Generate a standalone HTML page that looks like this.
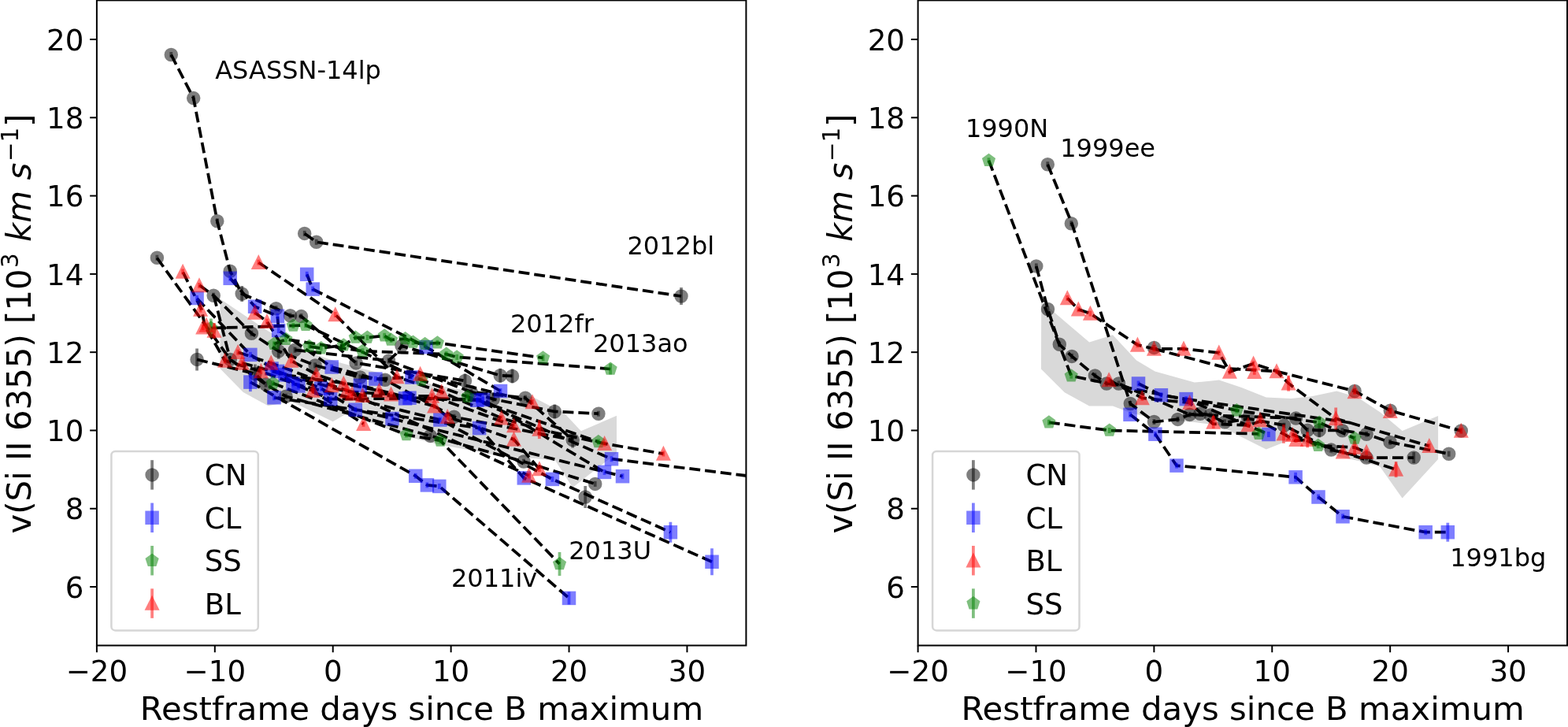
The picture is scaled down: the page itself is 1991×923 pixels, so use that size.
<!DOCTYPE html>
<html lang="en"><head><meta charset="utf-8"><title>v(Si II 6355) vs restframe days since B maximum</title>
<style>html,body{margin:0;padding:0;background:#fff}body{width:1991px;height:923px;overflow:hidden}svg{display:block}text{font-family:"DejaVu Sans","Liberation Sans",sans-serif;fill:#000}</style>
</head><body>
<svg width="1991" height="923" viewBox="0 0 1991 923">
<rect width="1991" height="923" fill="#fff"/>
<defs>
<clipPath id="clipL"><rect x="122.9" y="0.4" width="824.5" height="819.1"/></clipPath>
<clipPath id="clipR"><rect x="1165.6" y="0.4" width="824.4" height="819.1"/></clipPath>
</defs>
<g id="panelL">
<g clip-path="url(#clipL)">
<polygon points="279.5,379.6 310,400 340,420 370,438 400,450 430,460 460,468 500,478 540,486 580,494 620,498 676,503.7 716.7,524.8 737.8,547.3 783,527.8 783,575.3 727.1,618.9 705.3,585 680,582 640,580 600,572 560,565 520,555 480,540 440.8,524.8 422.7,535.3 370,509.7 340.5,515.3 308.9,498 279.5,468" fill="#d9d9d9"/>
<polyline points="217.3,69.5 245.7,124.6 275.8,280.7 292.2,344.2 307.2,373 350.6,391.7 368.5,400.8 382.5,401.6 452.1,460.9 590.5,483.4" fill="none" stroke="#000" stroke-width="3.75" stroke-dasharray="13.875 6"/>
<polyline points="386.7,296.4 401.7,307.3 865,376" fill="none" stroke="#000" stroke-width="3.75" stroke-dasharray="13.875 6"/>
<polyline points="199.4,327.5 292.3,456.4 337.5,488 363,503.3 546.4,553.4 665,586 755.7,614.4" fill="none" stroke="#000" stroke-width="3.75" stroke-dasharray="13.875 6"/>
<polyline points="271.5,375.3 319.4,423.3 353.7,445.8 400.1,463.9 457.3,479 489,482.3 576.5,529.3 727.2,558.6" fill="none" stroke="#000" stroke-width="3.75" stroke-dasharray="13.875 6"/>
<polyline points="271.5,375.3 292.3,456.4" fill="none" stroke="#000" stroke-width="3.75" stroke-dasharray="13.875 6"/>
<polyline points="250.1,456.4 323.9,474.5 337.5,488" fill="none" stroke="#000" stroke-width="3.75" stroke-dasharray="13.875 6"/>
<polyline points="374.5,444.3 493.5,457.9 503,449 510,439.1 635.2,476.8 650.5,477.4" fill="none" stroke="#000" stroke-width="3.75" stroke-dasharray="13.875 6"/>
<polyline points="598.3,497.6 626.2,506.7 704.3,522.5 759.9,525.2" fill="none" stroke="#000" stroke-width="3.75" stroke-dasharray="13.875 6"/>
<polyline points="493.5,457.9 598.3,497.6 667,505.2 727.2,558.6" fill="none" stroke="#000" stroke-width="3.75" stroke-dasharray="13.875 6"/>
<polyline points="232.3,345.5 256.1,393.3 259.7,412.6 285.5,457.9 331.4,471.4 397.1,496.1 461.6,538.3" fill="none" stroke="#000" stroke-width="3.75" stroke-dasharray="13.875 6"/>
<polyline points="253.1,362.1 271.5,375.3" fill="none" stroke="#000" stroke-width="3.75" stroke-dasharray="13.875 6"/>
<polyline points="323.6,396.9 339,408.2 370,457.9 401.6,475.5 436.3,487.1 481.4,496.1" fill="none" stroke="#000" stroke-width="3.75" stroke-dasharray="13.875 6"/>
<polyline points="328.3,333.2 425.8,399.5 504,478.5 560.7,497.6 636.7,530.8 684.8,545.1 767.6,563.2 842.4,576.1" fill="none" stroke="#000" stroke-width="3.75" stroke-dasharray="13.875 6"/>
<polyline points="302.1,447.3 344.2,460.9 421.2,489.4 460.4,502.2 548.6,502.9 652.5,540.6" fill="none" stroke="#000" stroke-width="3.75" stroke-dasharray="13.875 6"/>
<polyline points="307.3,460.9 440,497 496.5,500.7 551.6,515.7 568.2,529.3 652.5,557.9 684.9,595.6" fill="none" stroke="#000" stroke-width="3.75" stroke-dasharray="13.875 6"/>
<polyline points="533.6,475.1 676,510.5" fill="none" stroke="#000" stroke-width="3.75" stroke-dasharray="13.875 6"/>
<polyline points="447,500 671.6,603.9" fill="none" stroke="#000" stroke-width="3.75" stroke-dasharray="13.875 6"/>
<polyline points="250.1,378.9 317.9,450.4 352.5,471.4 407.7,493.1 451.3,520.2 498,531.5" fill="none" stroke="#000" stroke-width="3.75" stroke-dasharray="13.875 6"/>
<polyline points="292.2,353.3 323.6,389.2 352.4,401.3 353.7,419.5 421.2,466 476.9,481.1 523,479" fill="none" stroke="#000" stroke-width="3.75" stroke-dasharray="13.875 6"/>
<polyline points="389.7,348.3 397.2,367.1 541.1,440.6 635.5,496.5" fill="none" stroke="#000" stroke-width="3.75" stroke-dasharray="13.875 6"/>
<polyline points="317.9,485.1 527.7,604.3 542.4,615.9 557.8,617.4 722.5,759.4" fill="none" stroke="#000" stroke-width="3.75" stroke-dasharray="13.875 6"/>
<polyline points="345,468 379,490 419.7,506.7 514.6,505.9 605.8,508.2 776.5,582.7 960,605.5" fill="none" stroke="#000" stroke-width="3.75" stroke-dasharray="13.875 6"/>
<polyline points="362,476 457.3,489.4 520,505.2 613.4,507.4 767.5,599.4" fill="none" stroke="#000" stroke-width="3.75" stroke-dasharray="13.875 6"/>
<polyline points="348,504.8 608.6,543.6 665.3,606.9 904,713.3" fill="none" stroke="#000" stroke-width="3.75" stroke-dasharray="13.875 6"/>
<polyline points="372,487 558.9,533 701.4,608.4 851.4,675.7" fill="none" stroke="#000" stroke-width="3.75" stroke-dasharray="13.875 6"/>
<polyline points="498,531.5 790.5,604.7" fill="none" stroke="#000" stroke-width="3.75" stroke-dasharray="13.875 6"/>
<polyline points="392.6,439.8 407.7,442.1 436.3,438.3 451.3,428.5 466.4,428.5 488.2,426.3 496.5,431.5 514.6,430 524.5,434.5 539.6,436.8 555.4,435.3 689.6,454.4" fill="none" stroke="#000" stroke-width="3.75" stroke-dasharray="13.875 6"/>
<polyline points="348,436.8 363,430.8 460.4,445.8 566.7,449.6 580.2,453.4 775.1,468.5" fill="none" stroke="#000" stroke-width="3.75" stroke-dasharray="13.875 6"/>
<polyline points="267.9,416.5 372.3,413.5 388.1,412.7 535,482.5 593.8,503.7 759.9,560.9" fill="none" stroke="#000" stroke-width="3.75" stroke-dasharray="13.875 6"/>
<polyline points="346.5,486.5 516,552 559.2,559.4 710.5,716" fill="none" stroke="#000" stroke-width="3.75" stroke-dasharray="13.875 6"/>
<line x1="217.3" y1="66" x2="217.3" y2="73" stroke="#000000" stroke-opacity="0.5" stroke-width="3.75"/>
<circle cx="217.3" cy="69.5" r="7.5" fill="#000000" stroke="#000000" stroke-width="2.5" opacity="0.5"/>
<line x1="245.7" y1="121.1" x2="245.7" y2="128.1" stroke="#000000" stroke-opacity="0.5" stroke-width="3.75"/>
<circle cx="245.7" cy="124.6" r="7.5" fill="#000000" stroke="#000000" stroke-width="2.5" opacity="0.5"/>
<line x1="275.8" y1="277.2" x2="275.8" y2="284.2" stroke="#000000" stroke-opacity="0.5" stroke-width="3.75"/>
<circle cx="275.8" cy="280.7" r="7.5" fill="#000000" stroke="#000000" stroke-width="2.5" opacity="0.5"/>
<line x1="292.2" y1="340.7" x2="292.2" y2="347.7" stroke="#000000" stroke-opacity="0.5" stroke-width="3.75"/>
<circle cx="292.2" cy="344.2" r="7.5" fill="#000000" stroke="#000000" stroke-width="2.5" opacity="0.5"/>
<line x1="307.2" y1="363" x2="307.2" y2="383" stroke="#000000" stroke-opacity="0.5" stroke-width="3.75"/>
<circle cx="307.2" cy="373" r="7.5" fill="#000000" stroke="#000000" stroke-width="2.5" opacity="0.5"/>
<line x1="199.4" y1="323.7" x2="199.4" y2="330.7" stroke="#000000" stroke-opacity="0.5" stroke-width="3.75"/>
<circle cx="199.4" cy="327.2" r="7.5" fill="#000000" stroke="#000000" stroke-width="2.5" opacity="0.5"/>
<line x1="271.2" y1="371.7" x2="271.2" y2="378.7" stroke="#000000" stroke-opacity="0.5" stroke-width="3.75"/>
<circle cx="271.2" cy="375.2" r="7.5" fill="#000000" stroke="#000000" stroke-width="2.5" opacity="0.5"/>
<line x1="350.6" y1="388.2" x2="350.6" y2="395.2" stroke="#000000" stroke-opacity="0.5" stroke-width="3.75"/>
<circle cx="350.6" cy="391.7" r="7.5" fill="#000000" stroke="#000000" stroke-width="2.5" opacity="0.5"/>
<line x1="368.5" y1="397.3" x2="368.5" y2="404.3" stroke="#000000" stroke-opacity="0.5" stroke-width="3.75"/>
<circle cx="368.5" cy="400.8" r="7.5" fill="#000000" stroke="#000000" stroke-width="2.5" opacity="0.5"/>
<line x1="382.5" y1="398.1" x2="382.5" y2="405.1" stroke="#000000" stroke-opacity="0.5" stroke-width="3.75"/>
<circle cx="382.5" cy="401.6" r="7.5" fill="#000000" stroke="#000000" stroke-width="2.5" opacity="0.5"/>
<line x1="386.7" y1="292.9" x2="386.7" y2="299.9" stroke="#000000" stroke-opacity="0.5" stroke-width="3.75"/>
<circle cx="386.7" cy="296.4" r="7.5" fill="#000000" stroke="#000000" stroke-width="2.5" opacity="0.5"/>
<line x1="401.7" y1="303.8" x2="401.7" y2="310.8" stroke="#000000" stroke-opacity="0.5" stroke-width="3.75"/>
<circle cx="401.7" cy="307.3" r="7.5" fill="#000000" stroke="#000000" stroke-width="2.5" opacity="0.5"/>
<line x1="865" y1="365" x2="865" y2="387" stroke="#000000" stroke-opacity="0.5" stroke-width="3.75"/>
<circle cx="865" cy="376" r="7.5" fill="#000000" stroke="#000000" stroke-width="2.5" opacity="0.5"/>
<line x1="319.4" y1="419.8" x2="319.4" y2="426.8" stroke="#000000" stroke-opacity="0.5" stroke-width="3.75"/>
<circle cx="319.4" cy="423.3" r="7.5" fill="#000000" stroke="#000000" stroke-width="2.5" opacity="0.5"/>
<line x1="250.1" y1="442.4" x2="250.1" y2="470.4" stroke="#000000" stroke-opacity="0.5" stroke-width="3.75"/>
<circle cx="250.1" cy="456.4" r="7.5" fill="#000000" stroke="#000000" stroke-width="2.5" opacity="0.5"/>
<line x1="292.3" y1="452.9" x2="292.3" y2="459.9" stroke="#000000" stroke-opacity="0.5" stroke-width="3.75"/>
<circle cx="292.3" cy="456.4" r="7.5" fill="#000000" stroke="#000000" stroke-width="2.5" opacity="0.5"/>
<line x1="353.7" y1="435.8" x2="353.7" y2="455.8" stroke="#000000" stroke-opacity="0.5" stroke-width="3.75"/>
<circle cx="353.7" cy="445.8" r="7.5" fill="#000000" stroke="#000000" stroke-width="2.5" opacity="0.5"/>
<line x1="323.9" y1="462.5" x2="323.9" y2="486.5" stroke="#000000" stroke-opacity="0.5" stroke-width="3.75"/>
<circle cx="323.9" cy="474.5" r="7.5" fill="#000000" stroke="#000000" stroke-width="2.5" opacity="0.5"/>
<line x1="337.5" y1="484.5" x2="337.5" y2="491.5" stroke="#000000" stroke-opacity="0.5" stroke-width="3.75"/>
<circle cx="337.5" cy="488" r="7.5" fill="#000000" stroke="#000000" stroke-width="2.5" opacity="0.5"/>
<line x1="363" y1="499.8" x2="363" y2="506.8" stroke="#000000" stroke-opacity="0.5" stroke-width="3.75"/>
<circle cx="363" cy="503.3" r="7.5" fill="#000000" stroke="#000000" stroke-width="2.5" opacity="0.5"/>
<line x1="374.5" y1="440.8" x2="374.5" y2="447.8" stroke="#000000" stroke-opacity="0.5" stroke-width="3.75"/>
<circle cx="374.5" cy="444.3" r="7.5" fill="#000000" stroke="#000000" stroke-width="2.5" opacity="0.5"/>
<line x1="400.1" y1="460.4" x2="400.1" y2="467.4" stroke="#000000" stroke-opacity="0.5" stroke-width="3.75"/>
<circle cx="400.1" cy="463.9" r="7.5" fill="#000000" stroke="#000000" stroke-width="2.5" opacity="0.5"/>
<line x1="452.1" y1="457.4" x2="452.1" y2="464.4" stroke="#000000" stroke-opacity="0.5" stroke-width="3.75"/>
<circle cx="452.1" cy="460.9" r="7.5" fill="#000000" stroke="#000000" stroke-width="2.5" opacity="0.5"/>
<line x1="493.5" y1="454.4" x2="493.5" y2="461.4" stroke="#000000" stroke-opacity="0.5" stroke-width="3.75"/>
<circle cx="493.5" cy="457.9" r="7.5" fill="#000000" stroke="#000000" stroke-width="2.5" opacity="0.5"/>
<line x1="510" y1="435.6" x2="510" y2="442.6" stroke="#000000" stroke-opacity="0.5" stroke-width="3.75"/>
<circle cx="510" cy="439.1" r="7.5" fill="#000000" stroke="#000000" stroke-width="2.5" opacity="0.5"/>
<line x1="457.3" y1="475.5" x2="457.3" y2="482.5" stroke="#000000" stroke-opacity="0.5" stroke-width="3.75"/>
<circle cx="457.3" cy="479" r="7.5" fill="#000000" stroke="#000000" stroke-width="2.5" opacity="0.5"/>
<line x1="489" y1="478.8" x2="489" y2="485.8" stroke="#000000" stroke-opacity="0.5" stroke-width="3.75"/>
<circle cx="489" cy="482.3" r="7.5" fill="#000000" stroke="#000000" stroke-width="2.5" opacity="0.5"/>
<line x1="590.5" y1="474.4" x2="590.5" y2="492.4" stroke="#000000" stroke-opacity="0.5" stroke-width="3.75"/>
<circle cx="590.5" cy="483.4" r="7.5" fill="#000000" stroke="#000000" stroke-width="2.5" opacity="0.5"/>
<line x1="635.2" y1="467.8" x2="635.2" y2="485.8" stroke="#000000" stroke-opacity="0.5" stroke-width="3.75"/>
<circle cx="635.2" cy="476.8" r="7.5" fill="#000000" stroke="#000000" stroke-width="2.5" opacity="0.5"/>
<line x1="650.5" y1="468.4" x2="650.5" y2="486.4" stroke="#000000" stroke-opacity="0.5" stroke-width="3.75"/>
<circle cx="650.5" cy="477.4" r="7.5" fill="#000000" stroke="#000000" stroke-width="2.5" opacity="0.5"/>
<line x1="598.3" y1="494.1" x2="598.3" y2="501.1" stroke="#000000" stroke-opacity="0.5" stroke-width="3.75"/>
<circle cx="598.3" cy="497.6" r="7.5" fill="#000000" stroke="#000000" stroke-width="2.5" opacity="0.5"/>
<line x1="626.2" y1="503.2" x2="626.2" y2="510.2" stroke="#000000" stroke-opacity="0.5" stroke-width="3.75"/>
<circle cx="626.2" cy="506.7" r="7.5" fill="#000000" stroke="#000000" stroke-width="2.5" opacity="0.5"/>
<line x1="667" y1="501.7" x2="667" y2="508.7" stroke="#000000" stroke-opacity="0.5" stroke-width="3.75"/>
<circle cx="667" cy="505.2" r="7.5" fill="#000000" stroke="#000000" stroke-width="2.5" opacity="0.5"/>
<line x1="576.5" y1="525.8" x2="576.5" y2="532.8" stroke="#000000" stroke-opacity="0.5" stroke-width="3.75"/>
<circle cx="576.5" cy="529.3" r="7.5" fill="#000000" stroke="#000000" stroke-width="2.5" opacity="0.5"/>
<line x1="546.4" y1="549.9" x2="546.4" y2="556.9" stroke="#000000" stroke-opacity="0.5" stroke-width="3.75"/>
<circle cx="546.4" cy="553.4" r="7.5" fill="#000000" stroke="#000000" stroke-width="2.5" opacity="0.5"/>
<line x1="704.3" y1="513.5" x2="704.3" y2="531.5" stroke="#000000" stroke-opacity="0.5" stroke-width="3.75"/>
<circle cx="704.3" cy="522.5" r="7.5" fill="#000000" stroke="#000000" stroke-width="2.5" opacity="0.5"/>
<line x1="759.9" y1="521.7" x2="759.9" y2="528.7" stroke="#000000" stroke-opacity="0.5" stroke-width="3.75"/>
<circle cx="759.9" cy="525.2" r="7.5" fill="#000000" stroke="#000000" stroke-width="2.5" opacity="0.5"/>
<line x1="727.2" y1="548.6" x2="727.2" y2="568.6" stroke="#000000" stroke-opacity="0.5" stroke-width="3.75"/>
<circle cx="727.2" cy="558.6" r="7.5" fill="#000000" stroke="#000000" stroke-width="2.5" opacity="0.5"/>
<line x1="665" y1="582.5" x2="665" y2="589.5" stroke="#000000" stroke-opacity="0.5" stroke-width="3.75"/>
<circle cx="665" cy="586" r="7.5" fill="#000000" stroke="#000000" stroke-width="2.5" opacity="0.5"/>
<line x1="755.7" y1="610.9" x2="755.7" y2="617.9" stroke="#000000" stroke-opacity="0.5" stroke-width="3.75"/>
<circle cx="755.7" cy="614.4" r="7.5" fill="#000000" stroke="#000000" stroke-width="2.5" opacity="0.5"/>
<line x1="743.2" y1="617" x2="743.2" y2="645" stroke="#000000" stroke-opacity="0.5" stroke-width="3.75"/>
<circle cx="743.2" cy="631" r="7.5" fill="#000000" stroke="#000000" stroke-width="2.5" opacity="0.5"/>
<line x1="250.1" y1="375" x2="250.1" y2="382" stroke="#0000ff" stroke-opacity="0.5" stroke-width="3.75"/>
<rect x="242.6" y="371" width="15" height="15" fill="#0000ff" stroke="#0000ff" stroke-width="2.5" opacity="0.5"/>
<line x1="292.2" y1="349.8" x2="292.2" y2="356.8" stroke="#0000ff" stroke-opacity="0.5" stroke-width="3.75"/>
<rect x="284.7" y="345.8" width="15" height="15" fill="#0000ff" stroke="#0000ff" stroke-width="2.5" opacity="0.5"/>
<line x1="323.6" y1="385.7" x2="323.6" y2="392.7" stroke="#0000ff" stroke-opacity="0.5" stroke-width="3.75"/>
<rect x="316.1" y="381.7" width="15" height="15" fill="#0000ff" stroke="#0000ff" stroke-width="2.5" opacity="0.5"/>
<line x1="352.4" y1="397.8" x2="352.4" y2="404.8" stroke="#0000ff" stroke-opacity="0.5" stroke-width="3.75"/>
<rect x="344.9" y="393.8" width="15" height="15" fill="#0000ff" stroke="#0000ff" stroke-width="2.5" opacity="0.5"/>
<line x1="353.7" y1="416" x2="353.7" y2="423" stroke="#0000ff" stroke-opacity="0.5" stroke-width="3.75"/>
<rect x="346.2" y="412" width="15" height="15" fill="#0000ff" stroke="#0000ff" stroke-width="2.5" opacity="0.5"/>
<line x1="389.7" y1="344.8" x2="389.7" y2="351.8" stroke="#0000ff" stroke-opacity="0.5" stroke-width="3.75"/>
<rect x="382.2" y="340.8" width="15" height="15" fill="#0000ff" stroke="#0000ff" stroke-width="2.5" opacity="0.5"/>
<line x1="397.2" y1="363.6" x2="397.2" y2="370.6" stroke="#0000ff" stroke-opacity="0.5" stroke-width="3.75"/>
<rect x="389.7" y="359.6" width="15" height="15" fill="#0000ff" stroke="#0000ff" stroke-width="2.5" opacity="0.5"/>
<line x1="317.9" y1="446.9" x2="317.9" y2="453.9" stroke="#0000ff" stroke-opacity="0.5" stroke-width="3.75"/>
<rect x="310.4" y="442.9" width="15" height="15" fill="#0000ff" stroke="#0000ff" stroke-width="2.5" opacity="0.5"/>
<line x1="317.9" y1="473.1" x2="317.9" y2="497.1" stroke="#0000ff" stroke-opacity="0.5" stroke-width="3.75"/>
<rect x="310.4" y="477.6" width="15" height="15" fill="#0000ff" stroke="#0000ff" stroke-width="2.5" opacity="0.5"/>
<line x1="348" y1="501.3" x2="348" y2="508.3" stroke="#0000ff" stroke-opacity="0.5" stroke-width="3.75"/>
<rect x="340.5" y="497.3" width="15" height="15" fill="#0000ff" stroke="#0000ff" stroke-width="2.5" opacity="0.5"/>
<line x1="352.5" y1="467.9" x2="352.5" y2="474.9" stroke="#0000ff" stroke-opacity="0.5" stroke-width="3.75"/>
<rect x="345" y="463.9" width="15" height="15" fill="#0000ff" stroke="#0000ff" stroke-width="2.5" opacity="0.5"/>
<line x1="345" y1="464.5" x2="345" y2="471.5" stroke="#0000ff" stroke-opacity="0.5" stroke-width="3.75"/>
<rect x="337.5" y="460.5" width="15" height="15" fill="#0000ff" stroke="#0000ff" stroke-width="2.5" opacity="0.5"/>
<line x1="362" y1="472.5" x2="362" y2="479.5" stroke="#0000ff" stroke-opacity="0.5" stroke-width="3.75"/>
<rect x="354.5" y="468.5" width="15" height="15" fill="#0000ff" stroke="#0000ff" stroke-width="2.5" opacity="0.5"/>
<line x1="421.2" y1="462.5" x2="421.2" y2="469.5" stroke="#0000ff" stroke-opacity="0.5" stroke-width="3.75"/>
<rect x="413.7" y="458.5" width="15" height="15" fill="#0000ff" stroke="#0000ff" stroke-width="2.5" opacity="0.5"/>
<line x1="379" y1="486.5" x2="379" y2="493.5" stroke="#0000ff" stroke-opacity="0.5" stroke-width="3.75"/>
<rect x="371.5" y="482.5" width="15" height="15" fill="#0000ff" stroke="#0000ff" stroke-width="2.5" opacity="0.5"/>
<line x1="372" y1="483.5" x2="372" y2="490.5" stroke="#0000ff" stroke-opacity="0.5" stroke-width="3.75"/>
<rect x="364.5" y="479.5" width="15" height="15" fill="#0000ff" stroke="#0000ff" stroke-width="2.5" opacity="0.5"/>
<line x1="407.7" y1="489.6" x2="407.7" y2="496.6" stroke="#0000ff" stroke-opacity="0.5" stroke-width="3.75"/>
<rect x="400.2" y="485.6" width="15" height="15" fill="#0000ff" stroke="#0000ff" stroke-width="2.5" opacity="0.5"/>
<line x1="419.7" y1="503.2" x2="419.7" y2="510.2" stroke="#0000ff" stroke-opacity="0.5" stroke-width="3.75"/>
<rect x="412.2" y="499.2" width="15" height="15" fill="#0000ff" stroke="#0000ff" stroke-width="2.5" opacity="0.5"/>
<line x1="457.3" y1="485.9" x2="457.3" y2="492.9" stroke="#0000ff" stroke-opacity="0.5" stroke-width="3.75"/>
<rect x="449.8" y="481.9" width="15" height="15" fill="#0000ff" stroke="#0000ff" stroke-width="2.5" opacity="0.5"/>
<line x1="476.9" y1="477.6" x2="476.9" y2="484.6" stroke="#0000ff" stroke-opacity="0.5" stroke-width="3.75"/>
<rect x="469.4" y="473.6" width="15" height="15" fill="#0000ff" stroke="#0000ff" stroke-width="2.5" opacity="0.5"/>
<line x1="514.6" y1="502.4" x2="514.6" y2="509.4" stroke="#0000ff" stroke-opacity="0.5" stroke-width="3.75"/>
<rect x="507.1" y="498.4" width="15" height="15" fill="#0000ff" stroke="#0000ff" stroke-width="2.5" opacity="0.5"/>
<line x1="451.3" y1="516.7" x2="451.3" y2="523.7" stroke="#0000ff" stroke-opacity="0.5" stroke-width="3.75"/>
<rect x="443.8" y="512.7" width="15" height="15" fill="#0000ff" stroke="#0000ff" stroke-width="2.5" opacity="0.5"/>
<line x1="498" y1="528" x2="498" y2="535" stroke="#0000ff" stroke-opacity="0.5" stroke-width="3.75"/>
<rect x="490.5" y="524" width="15" height="15" fill="#0000ff" stroke="#0000ff" stroke-width="2.5" opacity="0.5"/>
<line x1="541.1" y1="437.1" x2="541.1" y2="444.1" stroke="#0000ff" stroke-opacity="0.5" stroke-width="3.75"/>
<rect x="533.6" y="433.1" width="15" height="15" fill="#0000ff" stroke="#0000ff" stroke-width="2.5" opacity="0.5"/>
<line x1="523" y1="475.5" x2="523" y2="482.5" stroke="#0000ff" stroke-opacity="0.5" stroke-width="3.75"/>
<rect x="515.5" y="471.5" width="15" height="15" fill="#0000ff" stroke="#0000ff" stroke-width="2.5" opacity="0.5"/>
<line x1="520" y1="501.7" x2="520" y2="508.7" stroke="#0000ff" stroke-opacity="0.5" stroke-width="3.75"/>
<rect x="512.5" y="497.7" width="15" height="15" fill="#0000ff" stroke="#0000ff" stroke-width="2.5" opacity="0.5"/>
<line x1="605.8" y1="504.7" x2="605.8" y2="511.7" stroke="#0000ff" stroke-opacity="0.5" stroke-width="3.75"/>
<rect x="598.3" y="500.7" width="15" height="15" fill="#0000ff" stroke="#0000ff" stroke-width="2.5" opacity="0.5"/>
<line x1="613.4" y1="503.9" x2="613.4" y2="510.9" stroke="#0000ff" stroke-opacity="0.5" stroke-width="3.75"/>
<rect x="605.9" y="499.9" width="15" height="15" fill="#0000ff" stroke="#0000ff" stroke-width="2.5" opacity="0.5"/>
<line x1="635.5" y1="493" x2="635.5" y2="500" stroke="#0000ff" stroke-opacity="0.5" stroke-width="3.75"/>
<rect x="628" y="489" width="15" height="15" fill="#0000ff" stroke="#0000ff" stroke-width="2.5" opacity="0.5"/>
<line x1="558.9" y1="529.5" x2="558.9" y2="536.5" stroke="#0000ff" stroke-opacity="0.5" stroke-width="3.75"/>
<rect x="551.4" y="525.5" width="15" height="15" fill="#0000ff" stroke="#0000ff" stroke-width="2.5" opacity="0.5"/>
<line x1="608.6" y1="540.1" x2="608.6" y2="547.1" stroke="#0000ff" stroke-opacity="0.5" stroke-width="3.75"/>
<rect x="601.1" y="536.1" width="15" height="15" fill="#0000ff" stroke="#0000ff" stroke-width="2.5" opacity="0.5"/>
<line x1="527.7" y1="600.8" x2="527.7" y2="607.8" stroke="#0000ff" stroke-opacity="0.5" stroke-width="3.75"/>
<rect x="520.2" y="596.8" width="15" height="15" fill="#0000ff" stroke="#0000ff" stroke-width="2.5" opacity="0.5"/>
<line x1="542.4" y1="612.4" x2="542.4" y2="619.4" stroke="#0000ff" stroke-opacity="0.5" stroke-width="3.75"/>
<rect x="534.9" y="608.4" width="15" height="15" fill="#0000ff" stroke="#0000ff" stroke-width="2.5" opacity="0.5"/>
<line x1="557.8" y1="613.9" x2="557.8" y2="620.9" stroke="#0000ff" stroke-opacity="0.5" stroke-width="3.75"/>
<rect x="550.3" y="609.9" width="15" height="15" fill="#0000ff" stroke="#0000ff" stroke-width="2.5" opacity="0.5"/>
<line x1="665.3" y1="603.4" x2="665.3" y2="610.4" stroke="#0000ff" stroke-opacity="0.5" stroke-width="3.75"/>
<rect x="657.8" y="599.4" width="15" height="15" fill="#0000ff" stroke="#0000ff" stroke-width="2.5" opacity="0.5"/>
<line x1="701.4" y1="604.9" x2="701.4" y2="611.9" stroke="#0000ff" stroke-opacity="0.5" stroke-width="3.75"/>
<rect x="693.9" y="600.9" width="15" height="15" fill="#0000ff" stroke="#0000ff" stroke-width="2.5" opacity="0.5"/>
<line x1="776.5" y1="579.2" x2="776.5" y2="586.2" stroke="#0000ff" stroke-opacity="0.5" stroke-width="3.75"/>
<rect x="769" y="575.2" width="15" height="15" fill="#0000ff" stroke="#0000ff" stroke-width="2.5" opacity="0.5"/>
<line x1="767.5" y1="595.9" x2="767.5" y2="602.9" stroke="#0000ff" stroke-opacity="0.5" stroke-width="3.75"/>
<rect x="760" y="591.9" width="15" height="15" fill="#0000ff" stroke="#0000ff" stroke-width="2.5" opacity="0.5"/>
<line x1="790.5" y1="601.2" x2="790.5" y2="608.2" stroke="#0000ff" stroke-opacity="0.5" stroke-width="3.75"/>
<rect x="783" y="597.2" width="15" height="15" fill="#0000ff" stroke="#0000ff" stroke-width="2.5" opacity="0.5"/>
<line x1="851.4" y1="662.7" x2="851.4" y2="688.7" stroke="#0000ff" stroke-opacity="0.5" stroke-width="3.75"/>
<rect x="843.9" y="668.2" width="15" height="15" fill="#0000ff" stroke="#0000ff" stroke-width="2.5" opacity="0.5"/>
<line x1="904" y1="696.3" x2="904" y2="730.3" stroke="#0000ff" stroke-opacity="0.5" stroke-width="3.75"/>
<rect x="896.5" y="705.8" width="15" height="15" fill="#0000ff" stroke="#0000ff" stroke-width="2.5" opacity="0.5"/>
<line x1="722.5" y1="751.4" x2="722.5" y2="767.4" stroke="#0000ff" stroke-opacity="0.5" stroke-width="3.75"/>
<rect x="715" y="751.9" width="15" height="15" fill="#0000ff" stroke="#0000ff" stroke-width="2.5" opacity="0.5"/>
<line x1="267.9" y1="404.5" x2="267.9" y2="428.5" stroke="#008000" stroke-opacity="0.5" stroke-width="3.75"/>
<polygon points="267.9,409 275.03,414.18 272.31,422.57 263.49,422.57 260.77,414.18" fill="#008000" stroke="#008000" stroke-width="2.5" opacity="0.5" stroke-linejoin="miter"/>
<line x1="372.3" y1="410" x2="372.3" y2="417" stroke="#008000" stroke-opacity="0.5" stroke-width="3.75"/>
<polygon points="372.3,406 379.43,411.18 376.71,419.57 367.89,419.57 365.17,411.18" fill="#008000" stroke="#008000" stroke-width="2.5" opacity="0.5" stroke-linejoin="miter"/>
<line x1="388.1" y1="409.2" x2="388.1" y2="416.2" stroke="#008000" stroke-opacity="0.5" stroke-width="3.75"/>
<polygon points="388.1,405.2 395.23,410.38 392.51,418.77 383.69,418.77 380.97,410.38" fill="#008000" stroke="#008000" stroke-width="2.5" opacity="0.5" stroke-linejoin="miter"/>
<line x1="348" y1="433.3" x2="348" y2="440.3" stroke="#008000" stroke-opacity="0.5" stroke-width="3.75"/>
<polygon points="348,429.3 355.13,434.48 352.41,442.87 343.59,442.87 340.87,434.48" fill="#008000" stroke="#008000" stroke-width="2.5" opacity="0.5" stroke-linejoin="miter"/>
<line x1="363" y1="427.3" x2="363" y2="434.3" stroke="#008000" stroke-opacity="0.5" stroke-width="3.75"/>
<polygon points="363,423.3 370.13,428.48 367.41,436.87 358.59,436.87 355.87,428.48" fill="#008000" stroke="#008000" stroke-width="2.5" opacity="0.5" stroke-linejoin="miter"/>
<line x1="392.6" y1="436.3" x2="392.6" y2="443.3" stroke="#008000" stroke-opacity="0.5" stroke-width="3.75"/>
<polygon points="392.6,432.3 399.73,437.48 397.01,445.87 388.19,445.87 385.47,437.48" fill="#008000" stroke="#008000" stroke-width="2.5" opacity="0.5" stroke-linejoin="miter"/>
<line x1="407.7" y1="438.6" x2="407.7" y2="445.6" stroke="#008000" stroke-opacity="0.5" stroke-width="3.75"/>
<polygon points="407.7,434.6 414.83,439.78 412.11,448.17 403.29,448.17 400.57,439.78" fill="#008000" stroke="#008000" stroke-width="2.5" opacity="0.5" stroke-linejoin="miter"/>
<line x1="436.3" y1="434.8" x2="436.3" y2="441.8" stroke="#008000" stroke-opacity="0.5" stroke-width="3.75"/>
<polygon points="436.3,430.8 443.43,435.98 440.71,444.37 431.89,444.37 429.17,435.98" fill="#008000" stroke="#008000" stroke-width="2.5" opacity="0.5" stroke-linejoin="miter"/>
<line x1="451.3" y1="425" x2="451.3" y2="432" stroke="#008000" stroke-opacity="0.5" stroke-width="3.75"/>
<polygon points="451.3,421 458.43,426.18 455.71,434.57 446.89,434.57 444.17,426.18" fill="#008000" stroke="#008000" stroke-width="2.5" opacity="0.5" stroke-linejoin="miter"/>
<line x1="466.4" y1="425" x2="466.4" y2="432" stroke="#008000" stroke-opacity="0.5" stroke-width="3.75"/>
<polygon points="466.4,421 473.53,426.18 470.81,434.57 461.99,434.57 459.27,426.18" fill="#008000" stroke="#008000" stroke-width="2.5" opacity="0.5" stroke-linejoin="miter"/>
<line x1="488.2" y1="422.8" x2="488.2" y2="429.8" stroke="#008000" stroke-opacity="0.5" stroke-width="3.75"/>
<polygon points="488.2,418.8 495.33,423.98 492.61,432.37 483.79,432.37 481.07,423.98" fill="#008000" stroke="#008000" stroke-width="2.5" opacity="0.5" stroke-linejoin="miter"/>
<line x1="496.5" y1="428" x2="496.5" y2="435" stroke="#008000" stroke-opacity="0.5" stroke-width="3.75"/>
<polygon points="496.5,424 503.63,429.18 500.91,437.57 492.09,437.57 489.37,429.18" fill="#008000" stroke="#008000" stroke-width="2.5" opacity="0.5" stroke-linejoin="miter"/>
<line x1="514.6" y1="426.5" x2="514.6" y2="433.5" stroke="#008000" stroke-opacity="0.5" stroke-width="3.75"/>
<polygon points="514.6,422.5 521.73,427.68 519.01,436.07 510.19,436.07 507.47,427.68" fill="#008000" stroke="#008000" stroke-width="2.5" opacity="0.5" stroke-linejoin="miter"/>
<line x1="524.5" y1="431" x2="524.5" y2="438" stroke="#008000" stroke-opacity="0.5" stroke-width="3.75"/>
<polygon points="524.5,427 531.63,432.18 528.91,440.57 520.09,440.57 517.37,432.18" fill="#008000" stroke="#008000" stroke-width="2.5" opacity="0.5" stroke-linejoin="miter"/>
<line x1="539.6" y1="433.3" x2="539.6" y2="440.3" stroke="#008000" stroke-opacity="0.5" stroke-width="3.75"/>
<polygon points="539.6,429.3 546.73,434.48 544.01,442.87 535.19,442.87 532.47,434.48" fill="#008000" stroke="#008000" stroke-width="2.5" opacity="0.5" stroke-linejoin="miter"/>
<line x1="555.4" y1="431.8" x2="555.4" y2="438.8" stroke="#008000" stroke-opacity="0.5" stroke-width="3.75"/>
<polygon points="555.4,427.8 562.53,432.98 559.81,441.37 550.99,441.37 548.27,432.98" fill="#008000" stroke="#008000" stroke-width="2.5" opacity="0.5" stroke-linejoin="miter"/>
<line x1="460.4" y1="442.3" x2="460.4" y2="449.3" stroke="#008000" stroke-opacity="0.5" stroke-width="3.75"/>
<polygon points="460.4,438.3 467.53,443.48 464.81,451.87 455.99,451.87 453.27,443.48" fill="#008000" stroke="#008000" stroke-width="2.5" opacity="0.5" stroke-linejoin="miter"/>
<line x1="566.7" y1="446.1" x2="566.7" y2="453.1" stroke="#008000" stroke-opacity="0.5" stroke-width="3.75"/>
<polygon points="566.7,442.1 573.83,447.28 571.11,455.67 562.29,455.67 559.57,447.28" fill="#008000" stroke="#008000" stroke-width="2.5" opacity="0.5" stroke-linejoin="miter"/>
<line x1="580.2" y1="449.9" x2="580.2" y2="456.9" stroke="#008000" stroke-opacity="0.5" stroke-width="3.75"/>
<polygon points="580.2,445.9 587.33,451.08 584.61,459.47 575.79,459.47 573.07,451.08" fill="#008000" stroke="#008000" stroke-width="2.5" opacity="0.5" stroke-linejoin="miter"/>
<line x1="689.6" y1="450.4" x2="689.6" y2="458.4" stroke="#008000" stroke-opacity="0.5" stroke-width="3.75"/>
<polygon points="689.6,446.9 696.73,452.08 694.01,460.47 685.19,460.47 682.47,452.08" fill="#008000" stroke="#008000" stroke-width="2.5" opacity="0.5" stroke-linejoin="miter"/>
<line x1="775.1" y1="461.5" x2="775.1" y2="475.5" stroke="#008000" stroke-opacity="0.5" stroke-width="3.75"/>
<polygon points="775.1,461 782.23,466.18 779.51,474.57 770.69,474.57 767.97,466.18" fill="#008000" stroke="#008000" stroke-width="2.5" opacity="0.5" stroke-linejoin="miter"/>
<line x1="346.5" y1="483" x2="346.5" y2="490" stroke="#008000" stroke-opacity="0.5" stroke-width="3.75"/>
<polygon points="346.5,479 353.63,484.18 350.91,492.57 342.09,492.57 339.37,484.18" fill="#008000" stroke="#008000" stroke-width="2.5" opacity="0.5" stroke-linejoin="miter"/>
<line x1="535" y1="479" x2="535" y2="486" stroke="#008000" stroke-opacity="0.5" stroke-width="3.75"/>
<polygon points="535,475 542.13,480.18 539.41,488.57 530.59,488.57 527.87,480.18" fill="#008000" stroke="#008000" stroke-width="2.5" opacity="0.5" stroke-linejoin="miter"/>
<line x1="593.8" y1="500.2" x2="593.8" y2="507.2" stroke="#008000" stroke-opacity="0.5" stroke-width="3.75"/>
<polygon points="593.8,496.2 600.93,501.38 598.21,509.77 589.39,509.77 586.67,501.38" fill="#008000" stroke="#008000" stroke-width="2.5" opacity="0.5" stroke-linejoin="miter"/>
<line x1="516" y1="548.5" x2="516" y2="555.5" stroke="#008000" stroke-opacity="0.5" stroke-width="3.75"/>
<polygon points="516,544.5 523.13,549.68 520.41,558.07 511.59,558.07 508.87,549.68" fill="#008000" stroke="#008000" stroke-width="2.5" opacity="0.5" stroke-linejoin="miter"/>
<line x1="559.2" y1="555.9" x2="559.2" y2="562.9" stroke="#008000" stroke-opacity="0.5" stroke-width="3.75"/>
<polygon points="559.2,551.9 566.33,557.08 563.61,565.47 554.79,565.47 552.07,557.08" fill="#008000" stroke="#008000" stroke-width="2.5" opacity="0.5" stroke-linejoin="miter"/>
<line x1="759.9" y1="557.4" x2="759.9" y2="564.4" stroke="#008000" stroke-opacity="0.5" stroke-width="3.75"/>
<polygon points="759.9,553.4 767.03,558.58 764.31,566.97 755.49,566.97 752.77,558.58" fill="#008000" stroke="#008000" stroke-width="2.5" opacity="0.5" stroke-linejoin="miter"/>
<line x1="710.5" y1="701" x2="710.5" y2="731" stroke="#008000" stroke-opacity="0.5" stroke-width="3.75"/>
<polygon points="710.5,708.5 717.63,713.68 714.91,722.07 706.09,722.07 703.37,713.68" fill="#008000" stroke="#008000" stroke-width="2.5" opacity="0.5" stroke-linejoin="miter"/>
<line x1="232.1" y1="341.5" x2="232.1" y2="348.5" stroke="#ff0000" stroke-opacity="0.5" stroke-width="3.75"/>
<polygon points="232.1,337.5 224.6,352.5 239.6,352.5" fill="#ff0000" stroke="#ff0000" stroke-width="2.5" opacity="0.5" stroke-linejoin="miter"/>
<line x1="253" y1="359" x2="253" y2="366" stroke="#ff0000" stroke-opacity="0.5" stroke-width="3.75"/>
<polygon points="253,355 245.5,370 260.5,370" fill="#ff0000" stroke="#ff0000" stroke-width="2.5" opacity="0.5" stroke-linejoin="miter"/>
<line x1="254.6" y1="389.6" x2="254.6" y2="396.6" stroke="#ff0000" stroke-opacity="0.5" stroke-width="3.75"/>
<polygon points="254.6,385.6 247.1,400.6 262.1,400.6" fill="#ff0000" stroke="#ff0000" stroke-width="2.5" opacity="0.5" stroke-linejoin="miter"/>
<line x1="257.7" y1="412.2" x2="257.7" y2="419.2" stroke="#ff0000" stroke-opacity="0.5" stroke-width="3.75"/>
<polygon points="257.7,408.2 250.2,423.2 265.2,423.2" fill="#ff0000" stroke="#ff0000" stroke-width="2.5" opacity="0.5" stroke-linejoin="miter"/>
<line x1="262" y1="409.5" x2="262" y2="416.5" stroke="#ff0000" stroke-opacity="0.5" stroke-width="3.75"/>
<polygon points="262,405.5 254.5,420.5 269.5,420.5" fill="#ff0000" stroke="#ff0000" stroke-width="2.5" opacity="0.5" stroke-linejoin="miter"/>
<line x1="272" y1="410" x2="272" y2="430" stroke="#ff0000" stroke-opacity="0.5" stroke-width="3.75"/>
<polygon points="272,412.5 264.5,427.5 279.5,427.5" fill="#ff0000" stroke="#ff0000" stroke-width="2.5" opacity="0.5" stroke-linejoin="miter"/>
<line x1="328.3" y1="329.7" x2="328.3" y2="336.7" stroke="#ff0000" stroke-opacity="0.5" stroke-width="3.75"/>
<polygon points="328.3,325.7 320.8,340.7 335.8,340.7" fill="#ff0000" stroke="#ff0000" stroke-width="2.5" opacity="0.5" stroke-linejoin="miter"/>
<line x1="323.6" y1="393.4" x2="323.6" y2="400.4" stroke="#ff0000" stroke-opacity="0.5" stroke-width="3.75"/>
<polygon points="323.6,389.4 316.1,404.4 331.1,404.4" fill="#ff0000" stroke="#ff0000" stroke-width="2.5" opacity="0.5" stroke-linejoin="miter"/>
<line x1="339" y1="404.7" x2="339" y2="411.7" stroke="#ff0000" stroke-opacity="0.5" stroke-width="3.75"/>
<polygon points="339,400.7 331.5,415.7 346.5,415.7" fill="#ff0000" stroke="#ff0000" stroke-width="2.5" opacity="0.5" stroke-linejoin="miter"/>
<line x1="425.8" y1="396" x2="425.8" y2="403" stroke="#ff0000" stroke-opacity="0.5" stroke-width="3.75"/>
<polygon points="425.8,392 418.3,407 433.3,407" fill="#ff0000" stroke="#ff0000" stroke-width="2.5" opacity="0.5" stroke-linejoin="miter"/>
<line x1="302.1" y1="443.8" x2="302.1" y2="450.8" stroke="#ff0000" stroke-opacity="0.5" stroke-width="3.75"/>
<polygon points="302.1,439.8 294.6,454.8 309.6,454.8" fill="#ff0000" stroke="#ff0000" stroke-width="2.5" opacity="0.5" stroke-linejoin="miter"/>
<line x1="285.5" y1="454.4" x2="285.5" y2="461.4" stroke="#ff0000" stroke-opacity="0.5" stroke-width="3.75"/>
<polygon points="285.5,450.4 278,465.4 293,465.4" fill="#ff0000" stroke="#ff0000" stroke-width="2.5" opacity="0.5" stroke-linejoin="miter"/>
<line x1="307.3" y1="457.4" x2="307.3" y2="464.4" stroke="#ff0000" stroke-opacity="0.5" stroke-width="3.75"/>
<polygon points="307.3,453.4 299.8,468.4 314.8,468.4" fill="#ff0000" stroke="#ff0000" stroke-width="2.5" opacity="0.5" stroke-linejoin="miter"/>
<line x1="344.2" y1="457.4" x2="344.2" y2="464.4" stroke="#ff0000" stroke-opacity="0.5" stroke-width="3.75"/>
<polygon points="344.2,453.4 336.7,468.4 351.7,468.4" fill="#ff0000" stroke="#ff0000" stroke-width="2.5" opacity="0.5" stroke-linejoin="miter"/>
<line x1="331.4" y1="467.9" x2="331.4" y2="474.9" stroke="#ff0000" stroke-opacity="0.5" stroke-width="3.75"/>
<polygon points="331.4,463.9 323.9,478.9 338.9,478.9" fill="#ff0000" stroke="#ff0000" stroke-width="2.5" opacity="0.5" stroke-linejoin="miter"/>
<line x1="370" y1="454.4" x2="370" y2="461.4" stroke="#ff0000" stroke-opacity="0.5" stroke-width="3.75"/>
<polygon points="370,450.4 362.5,465.4 377.5,465.4" fill="#ff0000" stroke="#ff0000" stroke-width="2.5" opacity="0.5" stroke-linejoin="miter"/>
<line x1="401.6" y1="472" x2="401.6" y2="479" stroke="#ff0000" stroke-opacity="0.5" stroke-width="3.75"/>
<polygon points="401.6,468 394.1,483 409.1,483" fill="#ff0000" stroke="#ff0000" stroke-width="2.5" opacity="0.5" stroke-linejoin="miter"/>
<line x1="397.1" y1="492.6" x2="397.1" y2="499.6" stroke="#ff0000" stroke-opacity="0.5" stroke-width="3.75"/>
<polygon points="397.1,488.6 389.6,503.6 404.6,503.6" fill="#ff0000" stroke="#ff0000" stroke-width="2.5" opacity="0.5" stroke-linejoin="miter"/>
<line x1="421.2" y1="485.9" x2="421.2" y2="492.9" stroke="#ff0000" stroke-opacity="0.5" stroke-width="3.75"/>
<polygon points="421.2,481.9 413.7,496.9 428.7,496.9" fill="#ff0000" stroke="#ff0000" stroke-width="2.5" opacity="0.5" stroke-linejoin="miter"/>
<line x1="436.3" y1="483.6" x2="436.3" y2="490.6" stroke="#ff0000" stroke-opacity="0.5" stroke-width="3.75"/>
<polygon points="436.3,479.6 428.8,494.6 443.8,494.6" fill="#ff0000" stroke="#ff0000" stroke-width="2.5" opacity="0.5" stroke-linejoin="miter"/>
<line x1="440" y1="493.5" x2="440" y2="500.5" stroke="#ff0000" stroke-opacity="0.5" stroke-width="3.75"/>
<polygon points="440,489.5 432.5,504.5 447.5,504.5" fill="#ff0000" stroke="#ff0000" stroke-width="2.5" opacity="0.5" stroke-linejoin="miter"/>
<line x1="447" y1="496.5" x2="447" y2="503.5" stroke="#ff0000" stroke-opacity="0.5" stroke-width="3.75"/>
<polygon points="447,492.5 439.5,507.5 454.5,507.5" fill="#ff0000" stroke="#ff0000" stroke-width="2.5" opacity="0.5" stroke-linejoin="miter"/>
<line x1="460.4" y1="498.7" x2="460.4" y2="505.7" stroke="#ff0000" stroke-opacity="0.5" stroke-width="3.75"/>
<polygon points="460.4,494.7 452.9,509.7 467.9,509.7" fill="#ff0000" stroke="#ff0000" stroke-width="2.5" opacity="0.5" stroke-linejoin="miter"/>
<line x1="481.4" y1="492.6" x2="481.4" y2="499.6" stroke="#ff0000" stroke-opacity="0.5" stroke-width="3.75"/>
<polygon points="481.4,488.6 473.9,503.6 488.9,503.6" fill="#ff0000" stroke="#ff0000" stroke-width="2.5" opacity="0.5" stroke-linejoin="miter"/>
<line x1="496.5" y1="497.2" x2="496.5" y2="504.2" stroke="#ff0000" stroke-opacity="0.5" stroke-width="3.75"/>
<polygon points="496.5,493.2 489,508.2 504,508.2" fill="#ff0000" stroke="#ff0000" stroke-width="2.5" opacity="0.5" stroke-linejoin="miter"/>
<line x1="504" y1="475" x2="504" y2="482" stroke="#ff0000" stroke-opacity="0.5" stroke-width="3.75"/>
<polygon points="504,471 496.5,486 511.5,486" fill="#ff0000" stroke="#ff0000" stroke-width="2.5" opacity="0.5" stroke-linejoin="miter"/>
<line x1="461.6" y1="534.8" x2="461.6" y2="541.8" stroke="#ff0000" stroke-opacity="0.5" stroke-width="3.75"/>
<polygon points="461.6,530.8 454.1,545.8 469.1,545.8" fill="#ff0000" stroke="#ff0000" stroke-width="2.5" opacity="0.5" stroke-linejoin="miter"/>
<line x1="533.6" y1="471.6" x2="533.6" y2="478.6" stroke="#ff0000" stroke-opacity="0.5" stroke-width="3.75"/>
<polygon points="533.6,467.6 526.1,482.6 541.1,482.6" fill="#ff0000" stroke="#ff0000" stroke-width="2.5" opacity="0.5" stroke-linejoin="miter"/>
<line x1="560.7" y1="494.1" x2="560.7" y2="501.1" stroke="#ff0000" stroke-opacity="0.5" stroke-width="3.75"/>
<polygon points="560.7,490.1 553.2,505.1 568.2,505.1" fill="#ff0000" stroke="#ff0000" stroke-width="2.5" opacity="0.5" stroke-linejoin="miter"/>
<line x1="548.6" y1="499.4" x2="548.6" y2="506.4" stroke="#ff0000" stroke-opacity="0.5" stroke-width="3.75"/>
<polygon points="548.6,495.4 541.1,510.4 556.1,510.4" fill="#ff0000" stroke="#ff0000" stroke-width="2.5" opacity="0.5" stroke-linejoin="miter"/>
<line x1="551.6" y1="512.2" x2="551.6" y2="519.2" stroke="#ff0000" stroke-opacity="0.5" stroke-width="3.75"/>
<polygon points="551.6,508.2 544.1,523.2 559.1,523.2" fill="#ff0000" stroke="#ff0000" stroke-width="2.5" opacity="0.5" stroke-linejoin="miter"/>
<line x1="568.2" y1="525.8" x2="568.2" y2="532.8" stroke="#ff0000" stroke-opacity="0.5" stroke-width="3.75"/>
<polygon points="568.2,521.8 560.7,536.8 575.7,536.8" fill="#ff0000" stroke="#ff0000" stroke-width="2.5" opacity="0.5" stroke-linejoin="miter"/>
<line x1="636.7" y1="527.3" x2="636.7" y2="534.3" stroke="#ff0000" stroke-opacity="0.5" stroke-width="3.75"/>
<polygon points="636.7,523.3 629.2,538.3 644.2,538.3" fill="#ff0000" stroke="#ff0000" stroke-width="2.5" opacity="0.5" stroke-linejoin="miter"/>
<line x1="652.5" y1="537.1" x2="652.5" y2="544.1" stroke="#ff0000" stroke-opacity="0.5" stroke-width="3.75"/>
<polygon points="652.5,533.1 645,548.1 660,548.1" fill="#ff0000" stroke="#ff0000" stroke-width="2.5" opacity="0.5" stroke-linejoin="miter"/>
<line x1="652.5" y1="554.4" x2="652.5" y2="561.4" stroke="#ff0000" stroke-opacity="0.5" stroke-width="3.75"/>
<polygon points="652.5,550.4 645,565.4 660,565.4" fill="#ff0000" stroke="#ff0000" stroke-width="2.5" opacity="0.5" stroke-linejoin="miter"/>
<line x1="676" y1="507" x2="676" y2="514" stroke="#ff0000" stroke-opacity="0.5" stroke-width="3.75"/>
<polygon points="676,503 668.5,518 683.5,518" fill="#ff0000" stroke="#ff0000" stroke-width="2.5" opacity="0.5" stroke-linejoin="miter"/>
<line x1="684.8" y1="533.1" x2="684.8" y2="557.1" stroke="#ff0000" stroke-opacity="0.5" stroke-width="3.75"/>
<polygon points="684.8,537.6 677.3,552.6 692.3,552.6" fill="#ff0000" stroke="#ff0000" stroke-width="2.5" opacity="0.5" stroke-linejoin="miter"/>
<line x1="767.6" y1="559.7" x2="767.6" y2="566.7" stroke="#ff0000" stroke-opacity="0.5" stroke-width="3.75"/>
<polygon points="767.6,555.7 760.1,570.7 775.1,570.7" fill="#ff0000" stroke="#ff0000" stroke-width="2.5" opacity="0.5" stroke-linejoin="miter"/>
<line x1="842.4" y1="572.6" x2="842.4" y2="579.6" stroke="#ff0000" stroke-opacity="0.5" stroke-width="3.75"/>
<polygon points="842.4,568.6 834.9,583.6 849.9,583.6" fill="#ff0000" stroke="#ff0000" stroke-width="2.5" opacity="0.5" stroke-linejoin="miter"/>
<line x1="684.9" y1="592.1" x2="684.9" y2="599.1" stroke="#ff0000" stroke-opacity="0.5" stroke-width="3.75"/>
<polygon points="684.9,588.1 677.4,603.1 692.4,603.1" fill="#ff0000" stroke="#ff0000" stroke-width="2.5" opacity="0.5" stroke-linejoin="miter"/>
<line x1="671.6" y1="600.4" x2="671.6" y2="607.4" stroke="#ff0000" stroke-opacity="0.5" stroke-width="3.75"/>
<polygon points="671.6,596.4 664.1,611.4 679.1,611.4" fill="#ff0000" stroke="#ff0000" stroke-width="2.5" opacity="0.5" stroke-linejoin="miter"/>
</g>
<rect x="141.4" y="573" width="186.4" height="227.4" rx="5" ry="5" fill="#fff" fill-opacity="0.8" stroke="#cccccc" stroke-opacity="0.8" stroke-width="2.5"/>
<line x1="193.1" y1="584.15" x2="193.1" y2="621.65" stroke="#000000" stroke-opacity="0.5" stroke-width="3.75"/>
<circle cx="193.1" cy="602.9" r="7.5" fill="#000000" stroke="#000000" stroke-width="2.5" opacity="0.5"/>
<text x="259.8" y="616.4" font-size="37" text-anchor="start">CN</text>
<line x1="193.1" y1="638.55" x2="193.1" y2="676.05" stroke="#0000ff" stroke-opacity="0.5" stroke-width="3.75"/>
<rect x="185.6" y="649.8" width="15" height="15" fill="#0000ff" stroke="#0000ff" stroke-width="2.5" opacity="0.5"/>
<text x="259.8" y="670.8" font-size="37" text-anchor="start">CL</text>
<line x1="193.1" y1="692.95" x2="193.1" y2="730.45" stroke="#008000" stroke-opacity="0.5" stroke-width="3.75"/>
<polygon points="193.1,704.2 200.23,709.38 197.51,717.77 188.69,717.77 185.97,709.38" fill="#008000" stroke="#008000" stroke-width="2.5" opacity="0.5" stroke-linejoin="miter"/>
<text x="259.8" y="725.2" font-size="37" text-anchor="start">SS</text>
<line x1="193.1" y1="747.35" x2="193.1" y2="784.85" stroke="#ff0000" stroke-opacity="0.5" stroke-width="3.75"/>
<polygon points="193.1,758.6 185.6,773.6 200.6,773.6" fill="#ff0000" stroke="#ff0000" stroke-width="2.5" opacity="0.5" stroke-linejoin="miter"/>
<text x="259.8" y="779.6" font-size="37" text-anchor="start">BL</text>
<text x="273.2" y="100.3" font-size="32" text-anchor="start">ASASSN-14lp</text>
<text x="796.5" y="323" font-size="32" text-anchor="start">2012bl</text>
<text x="648" y="422" font-size="32" text-anchor="start">2012fr</text>
<text x="753" y="447.3" font-size="32" text-anchor="start">2013ao</text>
<text x="722.2" y="710" font-size="32" text-anchor="start">2013U</text>
<text x="573" y="745.1" font-size="32" text-anchor="start">2011iv</text>
<rect x="122.9" y="0.4" width="824.5" height="819.1" fill="none" stroke="#000" stroke-width="2" stroke-linejoin="miter"/>
<line x1="122.9" y1="819.5" x2="122.9" y2="828.25" stroke="#000" stroke-width="2"/>
<text x="122.9" y="865.3" font-size="37.2" text-anchor="middle">−20</text>
<line x1="272.81" y1="819.5" x2="272.81" y2="828.25" stroke="#000" stroke-width="2"/>
<text x="272.81" y="865.3" font-size="37.2" text-anchor="middle">−10</text>
<line x1="422.72" y1="819.5" x2="422.72" y2="828.25" stroke="#000" stroke-width="2"/>
<text x="422.72" y="865.3" font-size="37.2" text-anchor="middle">0</text>
<line x1="572.63" y1="819.5" x2="572.63" y2="828.25" stroke="#000" stroke-width="2"/>
<text x="572.63" y="865.3" font-size="37.2" text-anchor="middle">10</text>
<line x1="722.54" y1="819.5" x2="722.54" y2="828.25" stroke="#000" stroke-width="2"/>
<text x="722.54" y="865.3" font-size="37.2" text-anchor="middle">20</text>
<line x1="872.45" y1="819.5" x2="872.45" y2="828.25" stroke="#000" stroke-width="2"/>
<text x="872.45" y="865.3" font-size="37.2" text-anchor="middle">30</text>
<line x1="114.15" y1="745.04" x2="122.9" y2="745.04" stroke="#000" stroke-width="2"/>
<text x="106.3" y="758.64" font-size="37.2" text-anchor="end">6</text>
<line x1="114.15" y1="645.75" x2="122.9" y2="645.75" stroke="#000" stroke-width="2"/>
<text x="106.3" y="659.35" font-size="37.2" text-anchor="end">8</text>
<line x1="114.15" y1="546.47" x2="122.9" y2="546.47" stroke="#000" stroke-width="2"/>
<text x="106.3" y="560.07" font-size="37.2" text-anchor="end">10</text>
<line x1="114.15" y1="447.18" x2="122.9" y2="447.18" stroke="#000" stroke-width="2"/>
<text x="106.3" y="460.78" font-size="37.2" text-anchor="end">12</text>
<line x1="114.15" y1="347.9" x2="122.9" y2="347.9" stroke="#000" stroke-width="2"/>
<text x="106.3" y="361.5" font-size="37.2" text-anchor="end">14</text>
<line x1="114.15" y1="248.61" x2="122.9" y2="248.61" stroke="#000" stroke-width="2"/>
<text x="106.3" y="262.21" font-size="37.2" text-anchor="end">16</text>
<line x1="114.15" y1="149.33" x2="122.9" y2="149.33" stroke="#000" stroke-width="2"/>
<text x="106.3" y="162.93" font-size="37.2" text-anchor="end">18</text>
<line x1="114.15" y1="50.04" x2="122.9" y2="50.04" stroke="#000" stroke-width="2"/>
<text x="106.3" y="63.64" font-size="37.2" text-anchor="end">20</text>
<text transform="translate(535.45,914.3) scale(1.03,1)" font-size="40.63" text-anchor="middle">Restframe days since B maximum</text>
<text transform="translate(39.3,677.6) rotate(-90)" font-size="41.85"><tspan x="0" y="0" font-size="41.85">v(Si II 6355) [10</tspan><tspan x="337.5" y="-16.2" font-size="29.3">3</tspan><tspan x="370.5" y="0" font-size="41.85" font-style="italic">km</tspan><tspan x="449" y="0" font-size="41.85" font-style="italic">s</tspan><tspan x="472.5" y="-16.2" font-size="29.3">−1</tspan><tspan x="516.5" y="0" font-size="41.85">]</tspan></text>
</g>
<g id="panelR">
<g clip-path="url(#clipR)">
<polygon points="1322.2,382.3 1352,408 1383.2,434.4 1413,425.3 1443,457.4 1466.5,471.5 1516.7,485.6 1548,482.5 1576.4,492 1607.8,504.5 1639.2,506 1665.4,503.2 1697.3,496.6 1724,504.5 1752.3,523.3 1780.6,546.9 1826.1,528 1826.1,583 1780.6,632.6 1752.3,592.4 1725,585 1700,580 1670.6,567.3 1639.2,557.9 1607.8,570.5 1576.4,554.7 1548,540 1516.7,536 1470,532 1438.2,525 1413,515.5 1383.2,515.5 1351.8,498.2 1322,468.4" fill="#d9d9d9"/>
<polyline points="1255.5,203.7 1360.2,477.2 1570.3,521.1 1675.2,536.5 1720.1,556.5" fill="none" stroke="#000" stroke-width="3.75" stroke-dasharray="13.875 6"/>
<polyline points="1330.3,208.8 1361,283.7 1435.3,512.5 1465.4,535.5 1495.5,532.4 1510.6,526.4 1524,525.2 1537,527 1554.7,536.6 1585.6,531.7 1630.3,539.9 1690.3,571.1 1735.1,581.1 1795.2,581" fill="none" stroke="#000" stroke-width="3.75" stroke-dasharray="13.875 6"/>
<polyline points="1315.8,337.9 1330.5,392.5 1345.3,437.3 1361,452.4 1390.4,476.9 1405.1,487 1420.5,487 1510.6,526.4 1644.9,530.9 1659.6,545.6 1675,546.4 1705,546.4 1735.1,551.2 1765.1,561.4 1839.7,576.2" fill="none" stroke="#000" stroke-width="3.75" stroke-dasharray="13.875 6"/>
<polyline points="1355.3,378.5 1369.3,392.8 1384.4,398.1 1444.4,437.9 1465.4,442.9 1503,442.9 1547.8,447.9 1561.4,472.1 1591.6,461.7 1621,471.5 1636.1,486.7 1696.2,531.5 1814.8,566.3" fill="none" stroke="#000" stroke-width="3.75" stroke-dasharray="13.875 6"/>
<polyline points="1465.4,442.9 1561,468 1621,471.5 1720.1,496.5 1765.3,521.3 1855.3,547" fill="none" stroke="#000" stroke-width="3.75" stroke-dasharray="13.875 6"/>
<polyline points="1435,526.3 1466.9,551.2 1494,591.1 1645.1,605.8 1674,631 1705,655.8 1810.2,675.7 1838.3,675.7" fill="none" stroke="#000" stroke-width="3.75" stroke-dasharray="13.875 6"/>
<polyline points="1331.9,536.3 1408.7,546.5 1598.4,550.8" fill="none" stroke="#000" stroke-width="3.75" stroke-dasharray="13.875 6"/>
<polyline points="1445.5,487 1474.4,501.7 1506.1,506.6 1610.9,551.5" fill="none" stroke="#000" stroke-width="3.75" stroke-dasharray="13.875 6"/>
<polyline points="1408.1,482.5 1450.3,505.4 1510.6,511.4 1540.1,538.2 1584.8,539.9 1600.2,535 1630.3,551.2 1644.1,559.4 1658.7,558.6 1705,574 1772.6,596.1" fill="none" stroke="#000" stroke-width="3.75" stroke-dasharray="13.875 6"/>
<polyline points="1640.9,551.2 1673.7,565.8 1720.1,568.1 1735.1,574.1" fill="none" stroke="#000" stroke-width="3.75" stroke-dasharray="13.875 6"/>
<polyline points="1506.1,506.6 1714,536.6" fill="none" stroke="#000" stroke-width="3.75" stroke-dasharray="13.875 6"/>
<line x1="1465.4" y1="437.9" x2="1465.4" y2="444.9" stroke="#000000" stroke-opacity="0.5" stroke-width="3.75"/>
<circle cx="1465.4" cy="441.4" r="7.5" fill="#000000" stroke="#000000" stroke-width="2.5" opacity="0.5"/>
<line x1="1330.3" y1="205.3" x2="1330.3" y2="212.3" stroke="#000000" stroke-opacity="0.5" stroke-width="3.75"/>
<circle cx="1330.3" cy="208.8" r="7.5" fill="#000000" stroke="#000000" stroke-width="2.5" opacity="0.5"/>
<line x1="1360.3" y1="280.2" x2="1360.3" y2="287.2" stroke="#000000" stroke-opacity="0.5" stroke-width="3.75"/>
<circle cx="1360.3" cy="283.7" r="7.5" fill="#000000" stroke="#000000" stroke-width="2.5" opacity="0.5"/>
<line x1="1315.8" y1="334.4" x2="1315.8" y2="341.4" stroke="#000000" stroke-opacity="0.5" stroke-width="3.75"/>
<circle cx="1315.8" cy="337.9" r="7.5" fill="#000000" stroke="#000000" stroke-width="2.5" opacity="0.5"/>
<line x1="1330.5" y1="389" x2="1330.5" y2="396" stroke="#000000" stroke-opacity="0.5" stroke-width="3.75"/>
<circle cx="1330.5" cy="392.5" r="7.5" fill="#000000" stroke="#000000" stroke-width="2.5" opacity="0.5"/>
<line x1="1345.3" y1="433.8" x2="1345.3" y2="440.8" stroke="#000000" stroke-opacity="0.5" stroke-width="3.75"/>
<circle cx="1345.3" cy="437.3" r="7.5" fill="#000000" stroke="#000000" stroke-width="2.5" opacity="0.5"/>
<line x1="1361" y1="448.9" x2="1361" y2="455.9" stroke="#000000" stroke-opacity="0.5" stroke-width="3.75"/>
<circle cx="1361" cy="452.4" r="7.5" fill="#000000" stroke="#000000" stroke-width="2.5" opacity="0.5"/>
<line x1="1390.4" y1="473.4" x2="1390.4" y2="480.4" stroke="#000000" stroke-opacity="0.5" stroke-width="3.75"/>
<circle cx="1390.4" cy="476.9" r="7.5" fill="#000000" stroke="#000000" stroke-width="2.5" opacity="0.5"/>
<line x1="1405.1" y1="483.5" x2="1405.1" y2="490.5" stroke="#000000" stroke-opacity="0.5" stroke-width="3.75"/>
<circle cx="1405.1" cy="487" r="7.5" fill="#000000" stroke="#000000" stroke-width="2.5" opacity="0.5"/>
<line x1="1420.5" y1="483.5" x2="1420.5" y2="490.5" stroke="#000000" stroke-opacity="0.5" stroke-width="3.75"/>
<circle cx="1420.5" cy="487" r="7.5" fill="#000000" stroke="#000000" stroke-width="2.5" opacity="0.5"/>
<line x1="1435.3" y1="509" x2="1435.3" y2="516" stroke="#000000" stroke-opacity="0.5" stroke-width="3.75"/>
<circle cx="1435.3" cy="512.5" r="7.5" fill="#000000" stroke="#000000" stroke-width="2.5" opacity="0.5"/>
<line x1="1465.4" y1="532" x2="1465.4" y2="539" stroke="#000000" stroke-opacity="0.5" stroke-width="3.75"/>
<circle cx="1465.4" cy="535.5" r="7.5" fill="#000000" stroke="#000000" stroke-width="2.5" opacity="0.5"/>
<line x1="1495.5" y1="528.9" x2="1495.5" y2="535.9" stroke="#000000" stroke-opacity="0.5" stroke-width="3.75"/>
<circle cx="1495.5" cy="532.4" r="7.5" fill="#000000" stroke="#000000" stroke-width="2.5" opacity="0.5"/>
<line x1="1510.6" y1="522.9" x2="1510.6" y2="529.9" stroke="#000000" stroke-opacity="0.5" stroke-width="3.75"/>
<circle cx="1510.6" cy="526.4" r="7.5" fill="#000000" stroke="#000000" stroke-width="2.5" opacity="0.5"/>
<line x1="1524" y1="521.7" x2="1524" y2="528.7" stroke="#000000" stroke-opacity="0.5" stroke-width="3.75"/>
<circle cx="1524" cy="525.2" r="7.5" fill="#000000" stroke="#000000" stroke-width="2.5" opacity="0.5"/>
<line x1="1537" y1="523.5" x2="1537" y2="530.5" stroke="#000000" stroke-opacity="0.5" stroke-width="3.75"/>
<circle cx="1537" cy="527" r="7.5" fill="#000000" stroke="#000000" stroke-width="2.5" opacity="0.5"/>
<line x1="1555" y1="532.6" x2="1555" y2="539.6" stroke="#000000" stroke-opacity="0.5" stroke-width="3.75"/>
<circle cx="1555" cy="536.1" r="7.5" fill="#000000" stroke="#000000" stroke-width="2.5" opacity="0.5"/>
<line x1="1584.8" y1="527.6" x2="1584.8" y2="534.6" stroke="#000000" stroke-opacity="0.5" stroke-width="3.75"/>
<circle cx="1584.8" cy="531.1" r="7.5" fill="#000000" stroke="#000000" stroke-width="2.5" opacity="0.5"/>
<line x1="1630.5" y1="536.7" x2="1630.5" y2="543.7" stroke="#000000" stroke-opacity="0.5" stroke-width="3.75"/>
<circle cx="1630.5" cy="540.2" r="7.5" fill="#000000" stroke="#000000" stroke-width="2.5" opacity="0.5"/>
<line x1="1645.5" y1="527.6" x2="1645.5" y2="534.6" stroke="#000000" stroke-opacity="0.5" stroke-width="3.75"/>
<circle cx="1645.5" cy="531.1" r="7.5" fill="#000000" stroke="#000000" stroke-width="2.5" opacity="0.5"/>
<line x1="1660.2" y1="542.8" x2="1660.2" y2="549.8" stroke="#000000" stroke-opacity="0.5" stroke-width="3.75"/>
<circle cx="1660.2" cy="546.3" r="7.5" fill="#000000" stroke="#000000" stroke-width="2.5" opacity="0.5"/>
<line x1="1675.2" y1="537.3" x2="1675.2" y2="555.3" stroke="#000000" stroke-opacity="0.5" stroke-width="3.75"/>
<circle cx="1675.2" cy="546.3" r="7.5" fill="#000000" stroke="#000000" stroke-width="2.5" opacity="0.5"/>
<line x1="1690.3" y1="567.6" x2="1690.3" y2="574.6" stroke="#000000" stroke-opacity="0.5" stroke-width="3.75"/>
<circle cx="1690.3" cy="571.1" r="7.5" fill="#000000" stroke="#000000" stroke-width="2.5" opacity="0.5"/>
<line x1="1704.5" y1="543.3" x2="1704.5" y2="550.3" stroke="#000000" stroke-opacity="0.5" stroke-width="3.75"/>
<circle cx="1704.5" cy="546.8" r="7.5" fill="#000000" stroke="#000000" stroke-width="2.5" opacity="0.5"/>
<line x1="1720.1" y1="493" x2="1720.1" y2="500" stroke="#000000" stroke-opacity="0.5" stroke-width="3.75"/>
<circle cx="1720.1" cy="496.5" r="7.5" fill="#000000" stroke="#000000" stroke-width="2.5" opacity="0.5"/>
<line x1="1765.3" y1="517.8" x2="1765.3" y2="524.8" stroke="#000000" stroke-opacity="0.5" stroke-width="3.75"/>
<circle cx="1765.3" cy="521.3" r="7.5" fill="#000000" stroke="#000000" stroke-width="2.5" opacity="0.5"/>
<line x1="1735.1" y1="547.7" x2="1735.1" y2="554.7" stroke="#000000" stroke-opacity="0.5" stroke-width="3.75"/>
<circle cx="1735.1" cy="551.2" r="7.5" fill="#000000" stroke="#000000" stroke-width="2.5" opacity="0.5"/>
<line x1="1765.1" y1="557.9" x2="1765.1" y2="564.9" stroke="#000000" stroke-opacity="0.5" stroke-width="3.75"/>
<circle cx="1765.1" cy="561.4" r="7.5" fill="#000000" stroke="#000000" stroke-width="2.5" opacity="0.5"/>
<line x1="1795.2" y1="574" x2="1795.2" y2="588" stroke="#000000" stroke-opacity="0.5" stroke-width="3.75"/>
<circle cx="1795.2" cy="581" r="7.5" fill="#000000" stroke="#000000" stroke-width="2.5" opacity="0.5"/>
<line x1="1839.7" y1="572.7" x2="1839.7" y2="579.7" stroke="#000000" stroke-opacity="0.5" stroke-width="3.75"/>
<circle cx="1839.7" cy="576.2" r="7.5" fill="#000000" stroke="#000000" stroke-width="2.5" opacity="0.5"/>
<line x1="1735.1" y1="577.6" x2="1735.1" y2="584.6" stroke="#000000" stroke-opacity="0.5" stroke-width="3.75"/>
<circle cx="1735.1" cy="581.1" r="7.5" fill="#000000" stroke="#000000" stroke-width="2.5" opacity="0.5"/>
<line x1="1855.3" y1="543.5" x2="1855.3" y2="550.5" stroke="#000000" stroke-opacity="0.5" stroke-width="3.75"/>
<circle cx="1855.3" cy="547" r="7.5" fill="#000000" stroke="#000000" stroke-width="2.5" opacity="0.5"/>
<line x1="1445.5" y1="483.5" x2="1445.5" y2="490.5" stroke="#0000ff" stroke-opacity="0.5" stroke-width="3.75"/>
<rect x="1438" y="479.5" width="15" height="15" fill="#0000ff" stroke="#0000ff" stroke-width="2.5" opacity="0.5"/>
<line x1="1474.4" y1="498.2" x2="1474.4" y2="505.2" stroke="#0000ff" stroke-opacity="0.5" stroke-width="3.75"/>
<rect x="1466.9" y="494.2" width="15" height="15" fill="#0000ff" stroke="#0000ff" stroke-width="2.5" opacity="0.5"/>
<line x1="1506.1" y1="503.1" x2="1506.1" y2="510.1" stroke="#0000ff" stroke-opacity="0.5" stroke-width="3.75"/>
<rect x="1498.6" y="499.1" width="15" height="15" fill="#0000ff" stroke="#0000ff" stroke-width="2.5" opacity="0.5"/>
<line x1="1435" y1="522.8" x2="1435" y2="529.8" stroke="#0000ff" stroke-opacity="0.5" stroke-width="3.75"/>
<rect x="1427.5" y="518.8" width="15" height="15" fill="#0000ff" stroke="#0000ff" stroke-width="2.5" opacity="0.5"/>
<line x1="1466.9" y1="547.7" x2="1466.9" y2="554.7" stroke="#0000ff" stroke-opacity="0.5" stroke-width="3.75"/>
<rect x="1459.4" y="543.7" width="15" height="15" fill="#0000ff" stroke="#0000ff" stroke-width="2.5" opacity="0.5"/>
<line x1="1494" y1="587.6" x2="1494" y2="594.6" stroke="#0000ff" stroke-opacity="0.5" stroke-width="3.75"/>
<rect x="1486.5" y="583.6" width="15" height="15" fill="#0000ff" stroke="#0000ff" stroke-width="2.5" opacity="0.5"/>
<line x1="1610.9" y1="548" x2="1610.9" y2="555" stroke="#0000ff" stroke-opacity="0.5" stroke-width="3.75"/>
<rect x="1603.4" y="544" width="15" height="15" fill="#0000ff" stroke="#0000ff" stroke-width="2.5" opacity="0.5"/>
<line x1="1645.1" y1="599.8" x2="1645.1" y2="611.8" stroke="#0000ff" stroke-opacity="0.5" stroke-width="3.75"/>
<rect x="1637.6" y="598.3" width="15" height="15" fill="#0000ff" stroke="#0000ff" stroke-width="2.5" opacity="0.5"/>
<line x1="1674" y1="627.5" x2="1674" y2="634.5" stroke="#0000ff" stroke-opacity="0.5" stroke-width="3.75"/>
<rect x="1666.5" y="623.5" width="15" height="15" fill="#0000ff" stroke="#0000ff" stroke-width="2.5" opacity="0.5"/>
<line x1="1705" y1="652.3" x2="1705" y2="659.3" stroke="#0000ff" stroke-opacity="0.5" stroke-width="3.75"/>
<rect x="1697.5" y="648.3" width="15" height="15" fill="#0000ff" stroke="#0000ff" stroke-width="2.5" opacity="0.5"/>
<line x1="1810.2" y1="672.2" x2="1810.2" y2="679.2" stroke="#0000ff" stroke-opacity="0.5" stroke-width="3.75"/>
<rect x="1802.7" y="668.2" width="15" height="15" fill="#0000ff" stroke="#0000ff" stroke-width="2.5" opacity="0.5"/>
<line x1="1838.3" y1="663.7" x2="1838.3" y2="687.7" stroke="#0000ff" stroke-opacity="0.5" stroke-width="3.75"/>
<rect x="1830.8" y="668.2" width="15" height="15" fill="#0000ff" stroke="#0000ff" stroke-width="2.5" opacity="0.5"/>
<line x1="1355.3" y1="375" x2="1355.3" y2="382" stroke="#ff0000" stroke-opacity="0.5" stroke-width="3.75"/>
<polygon points="1355.3,371 1347.8,386 1362.8,386" fill="#ff0000" stroke="#ff0000" stroke-width="2.5" opacity="0.5" stroke-linejoin="miter"/>
<line x1="1369.3" y1="389.3" x2="1369.3" y2="396.3" stroke="#ff0000" stroke-opacity="0.5" stroke-width="3.75"/>
<polygon points="1369.3,385.3 1361.8,400.3 1376.8,400.3" fill="#ff0000" stroke="#ff0000" stroke-width="2.5" opacity="0.5" stroke-linejoin="miter"/>
<line x1="1384.4" y1="394.6" x2="1384.4" y2="401.6" stroke="#ff0000" stroke-opacity="0.5" stroke-width="3.75"/>
<polygon points="1384.4,390.6 1376.9,405.6 1391.9,405.6" fill="#ff0000" stroke="#ff0000" stroke-width="2.5" opacity="0.5" stroke-linejoin="miter"/>
<line x1="1408.1" y1="479" x2="1408.1" y2="486" stroke="#ff0000" stroke-opacity="0.5" stroke-width="3.75"/>
<polygon points="1408.1,475 1400.6,490 1415.6,490" fill="#ff0000" stroke="#ff0000" stroke-width="2.5" opacity="0.5" stroke-linejoin="miter"/>
<line x1="1444.4" y1="434.4" x2="1444.4" y2="441.4" stroke="#ff0000" stroke-opacity="0.5" stroke-width="3.75"/>
<polygon points="1444.4,430.4 1436.9,445.4 1451.9,445.4" fill="#ff0000" stroke="#ff0000" stroke-width="2.5" opacity="0.5" stroke-linejoin="miter"/>
<line x1="1465.4" y1="439.4" x2="1465.4" y2="446.4" stroke="#ff0000" stroke-opacity="0.5" stroke-width="3.75"/>
<polygon points="1465.4,435.4 1457.9,450.4 1472.9,450.4" fill="#ff0000" stroke="#ff0000" stroke-width="2.5" opacity="0.5" stroke-linejoin="miter"/>
<line x1="1503" y1="439.4" x2="1503" y2="446.4" stroke="#ff0000" stroke-opacity="0.5" stroke-width="3.75"/>
<polygon points="1503,435.4 1495.5,450.4 1510.5,450.4" fill="#ff0000" stroke="#ff0000" stroke-width="2.5" opacity="0.5" stroke-linejoin="miter"/>
<line x1="1547.8" y1="444.4" x2="1547.8" y2="451.4" stroke="#ff0000" stroke-opacity="0.5" stroke-width="3.75"/>
<polygon points="1547.8,440.4 1540.3,455.4 1555.3,455.4" fill="#ff0000" stroke="#ff0000" stroke-width="2.5" opacity="0.5" stroke-linejoin="miter"/>
<line x1="1561.4" y1="468.6" x2="1561.4" y2="475.6" stroke="#ff0000" stroke-opacity="0.5" stroke-width="3.75"/>
<polygon points="1561.4,464.6 1553.9,479.6 1568.9,479.6" fill="#ff0000" stroke="#ff0000" stroke-width="2.5" opacity="0.5" stroke-linejoin="miter"/>
<line x1="1591.6" y1="458.2" x2="1591.6" y2="465.2" stroke="#ff0000" stroke-opacity="0.5" stroke-width="3.75"/>
<polygon points="1591.6,454.2 1584.1,469.2 1599.1,469.2" fill="#ff0000" stroke="#ff0000" stroke-width="2.5" opacity="0.5" stroke-linejoin="miter"/>
<line x1="1592.8" y1="468.8" x2="1592.8" y2="475.8" stroke="#ff0000" stroke-opacity="0.5" stroke-width="3.75"/>
<polygon points="1592.8,464.8 1585.3,479.8 1600.3,479.8" fill="#ff0000" stroke="#ff0000" stroke-width="2.5" opacity="0.5" stroke-linejoin="miter"/>
<line x1="1621" y1="468" x2="1621" y2="475" stroke="#ff0000" stroke-opacity="0.5" stroke-width="3.75"/>
<polygon points="1621,464 1613.5,479 1628.5,479" fill="#ff0000" stroke="#ff0000" stroke-width="2.5" opacity="0.5" stroke-linejoin="miter"/>
<line x1="1636.1" y1="476.7" x2="1636.1" y2="496.7" stroke="#ff0000" stroke-opacity="0.5" stroke-width="3.75"/>
<polygon points="1636.1,479.2 1628.6,494.2 1643.6,494.2" fill="#ff0000" stroke="#ff0000" stroke-width="2.5" opacity="0.5" stroke-linejoin="miter"/>
<line x1="1450.3" y1="501.9" x2="1450.3" y2="508.9" stroke="#ff0000" stroke-opacity="0.5" stroke-width="3.75"/>
<polygon points="1450.3,497.9 1442.8,512.9 1457.8,512.9" fill="#ff0000" stroke="#ff0000" stroke-width="2.5" opacity="0.5" stroke-linejoin="miter"/>
<line x1="1510.6" y1="507.9" x2="1510.6" y2="514.9" stroke="#ff0000" stroke-opacity="0.5" stroke-width="3.75"/>
<polygon points="1510.6,503.9 1503.1,518.9 1518.1,518.9" fill="#ff0000" stroke="#ff0000" stroke-width="2.5" opacity="0.5" stroke-linejoin="miter"/>
<line x1="1540.7" y1="528" x2="1540.7" y2="544" stroke="#ff0000" stroke-opacity="0.5" stroke-width="3.75"/>
<polygon points="1540.7,528.5 1533.2,543.5 1548.2,543.5" fill="#ff0000" stroke="#ff0000" stroke-width="2.5" opacity="0.5" stroke-linejoin="miter"/>
<line x1="1584.8" y1="536" x2="1584.8" y2="543" stroke="#ff0000" stroke-opacity="0.5" stroke-width="3.75"/>
<polygon points="1584.8,532 1577.3,547 1592.3,547" fill="#ff0000" stroke="#ff0000" stroke-width="2.5" opacity="0.5" stroke-linejoin="miter"/>
<line x1="1600.2" y1="529.9" x2="1600.2" y2="536.9" stroke="#ff0000" stroke-opacity="0.5" stroke-width="3.75"/>
<polygon points="1600.2,525.9 1592.7,540.9 1607.7,540.9" fill="#ff0000" stroke="#ff0000" stroke-width="2.5" opacity="0.5" stroke-linejoin="miter"/>
<line x1="1630" y1="538.8" x2="1630" y2="562.8" stroke="#ff0000" stroke-opacity="0.5" stroke-width="3.75"/>
<polygon points="1630,543.3 1622.5,558.3 1637.5,558.3" fill="#ff0000" stroke="#ff0000" stroke-width="2.5" opacity="0.5" stroke-linejoin="miter"/>
<line x1="1641.3" y1="548.8" x2="1641.3" y2="555.8" stroke="#ff0000" stroke-opacity="0.5" stroke-width="3.75"/>
<polygon points="1641.3,544.8 1633.8,559.8 1648.8,559.8" fill="#ff0000" stroke="#ff0000" stroke-width="2.5" opacity="0.5" stroke-linejoin="miter"/>
<line x1="1645.8" y1="554.8" x2="1645.8" y2="561.8" stroke="#ff0000" stroke-opacity="0.5" stroke-width="3.75"/>
<polygon points="1645.8,550.8 1638.3,565.8 1653.3,565.8" fill="#ff0000" stroke="#ff0000" stroke-width="2.5" opacity="0.5" stroke-linejoin="miter"/>
<line x1="1660.2" y1="548.3" x2="1660.2" y2="568.3" stroke="#ff0000" stroke-opacity="0.5" stroke-width="3.75"/>
<polygon points="1660.2,550.8 1652.7,565.8 1667.7,565.8" fill="#ff0000" stroke="#ff0000" stroke-width="2.5" opacity="0.5" stroke-linejoin="miter"/>
<line x1="1696.2" y1="517.5" x2="1696.2" y2="545.5" stroke="#ff0000" stroke-opacity="0.5" stroke-width="3.75"/>
<polygon points="1696.2,524 1688.7,539 1703.7,539" fill="#ff0000" stroke="#ff0000" stroke-width="2.5" opacity="0.5" stroke-linejoin="miter"/>
<line x1="1705.2" y1="570.3" x2="1705.2" y2="577.3" stroke="#ff0000" stroke-opacity="0.5" stroke-width="3.75"/>
<polygon points="1705.2,566.3 1697.7,581.3 1712.7,581.3" fill="#ff0000" stroke="#ff0000" stroke-width="2.5" opacity="0.5" stroke-linejoin="miter"/>
<line x1="1720.1" y1="558.1" x2="1720.1" y2="578.1" stroke="#ff0000" stroke-opacity="0.5" stroke-width="3.75"/>
<polygon points="1720.1,560.6 1712.6,575.6 1727.6,575.6" fill="#ff0000" stroke="#ff0000" stroke-width="2.5" opacity="0.5" stroke-linejoin="miter"/>
<line x1="1735.1" y1="570.6" x2="1735.1" y2="577.6" stroke="#ff0000" stroke-opacity="0.5" stroke-width="3.75"/>
<polygon points="1735.1,566.6 1727.6,581.6 1742.6,581.6" fill="#ff0000" stroke="#ff0000" stroke-width="2.5" opacity="0.5" stroke-linejoin="miter"/>
<line x1="1772.6" y1="586.1" x2="1772.6" y2="606.1" stroke="#ff0000" stroke-opacity="0.5" stroke-width="3.75"/>
<polygon points="1772.6,588.6 1765.1,603.6 1780.1,603.6" fill="#ff0000" stroke="#ff0000" stroke-width="2.5" opacity="0.5" stroke-linejoin="miter"/>
<line x1="1814.8" y1="562.8" x2="1814.8" y2="569.8" stroke="#ff0000" stroke-opacity="0.5" stroke-width="3.75"/>
<polygon points="1814.8,558.8 1807.3,573.8 1822.3,573.8" fill="#ff0000" stroke="#ff0000" stroke-width="2.5" opacity="0.5" stroke-linejoin="miter"/>
<line x1="1720.1" y1="494" x2="1720.1" y2="501" stroke="#ff0000" stroke-opacity="0.5" stroke-width="3.75"/>
<polygon points="1720.1,490 1712.6,505 1727.6,505" fill="#ff0000" stroke="#ff0000" stroke-width="2.5" opacity="0.5" stroke-linejoin="miter"/>
<line x1="1765.3" y1="518.8" x2="1765.3" y2="525.8" stroke="#ff0000" stroke-opacity="0.5" stroke-width="3.75"/>
<polygon points="1765.3,514.8 1757.8,529.8 1772.8,529.8" fill="#ff0000" stroke="#ff0000" stroke-width="2.5" opacity="0.5" stroke-linejoin="miter"/>
<line x1="1855.3" y1="543.5" x2="1855.3" y2="550.5" stroke="#ff0000" stroke-opacity="0.5" stroke-width="3.75"/>
<polygon points="1855.3,539.5 1847.8,554.5 1862.8,554.5" fill="#ff0000" stroke="#ff0000" stroke-width="2.5" opacity="0.5" stroke-linejoin="miter"/>
<line x1="1255.5" y1="200.2" x2="1255.5" y2="207.2" stroke="#008000" stroke-opacity="0.5" stroke-width="3.75"/>
<polygon points="1255.5,196.2 1262.63,201.38 1259.91,209.77 1251.09,209.77 1248.37,201.38" fill="#008000" stroke="#008000" stroke-width="2.5" opacity="0.5" stroke-linejoin="miter"/>
<line x1="1360.2" y1="473.7" x2="1360.2" y2="480.7" stroke="#008000" stroke-opacity="0.5" stroke-width="3.75"/>
<polygon points="1360.2,469.7 1367.33,474.88 1364.61,483.27 1355.79,483.27 1353.07,474.88" fill="#008000" stroke="#008000" stroke-width="2.5" opacity="0.5" stroke-linejoin="miter"/>
<line x1="1331.9" y1="532.8" x2="1331.9" y2="539.8" stroke="#008000" stroke-opacity="0.5" stroke-width="3.75"/>
<polygon points="1331.9,528.8 1339.03,533.98 1336.31,542.37 1327.49,542.37 1324.77,533.98" fill="#008000" stroke="#008000" stroke-width="2.5" opacity="0.5" stroke-linejoin="miter"/>
<line x1="1408.7" y1="543" x2="1408.7" y2="550" stroke="#008000" stroke-opacity="0.5" stroke-width="3.75"/>
<polygon points="1408.7,539 1415.83,544.18 1413.11,552.57 1404.29,552.57 1401.57,544.18" fill="#008000" stroke="#008000" stroke-width="2.5" opacity="0.5" stroke-linejoin="miter"/>
<line x1="1570.3" y1="517.6" x2="1570.3" y2="524.6" stroke="#008000" stroke-opacity="0.5" stroke-width="3.75"/>
<polygon points="1570.3,513.6 1577.43,518.78 1574.71,527.17 1565.89,527.17 1563.17,518.78" fill="#008000" stroke="#008000" stroke-width="2.5" opacity="0.5" stroke-linejoin="miter"/>
<line x1="1598.4" y1="547.3" x2="1598.4" y2="554.3" stroke="#008000" stroke-opacity="0.5" stroke-width="3.75"/>
<polygon points="1598.4,543.3 1605.53,548.48 1602.81,556.87 1593.99,556.87 1591.27,548.48" fill="#008000" stroke="#008000" stroke-width="2.5" opacity="0.5" stroke-linejoin="miter"/>
<line x1="1675.2" y1="533" x2="1675.2" y2="540" stroke="#008000" stroke-opacity="0.5" stroke-width="3.75"/>
<polygon points="1675.2,529 1682.33,534.18 1679.61,542.57 1670.79,542.57 1668.07,534.18" fill="#008000" stroke="#008000" stroke-width="2.5" opacity="0.5" stroke-linejoin="miter"/>
<line x1="1673.7" y1="562.3" x2="1673.7" y2="569.3" stroke="#008000" stroke-opacity="0.5" stroke-width="3.75"/>
<polygon points="1673.7,558.3 1680.83,563.48 1678.11,571.87 1669.29,571.87 1666.57,563.48" fill="#008000" stroke="#008000" stroke-width="2.5" opacity="0.5" stroke-linejoin="miter"/>
<line x1="1720.1" y1="553" x2="1720.1" y2="560" stroke="#008000" stroke-opacity="0.5" stroke-width="3.75"/>
<polygon points="1720.1,549 1727.23,554.18 1724.51,562.57 1715.69,562.57 1712.97,554.18" fill="#008000" stroke="#008000" stroke-width="2.5" opacity="0.5" stroke-linejoin="miter"/>
</g>
<rect x="1184.1" y="573" width="186.4" height="227.4" rx="5" ry="5" fill="#fff" fill-opacity="0.8" stroke="#cccccc" stroke-opacity="0.8" stroke-width="2.5"/>
<line x1="1235.9" y1="584.15" x2="1235.9" y2="621.65" stroke="#000000" stroke-opacity="0.5" stroke-width="3.75"/>
<circle cx="1235.9" cy="602.9" r="7.5" fill="#000000" stroke="#000000" stroke-width="2.5" opacity="0.5"/>
<text x="1302.4" y="616.4" font-size="37" text-anchor="start">CN</text>
<line x1="1235.9" y1="638.55" x2="1235.9" y2="676.05" stroke="#0000ff" stroke-opacity="0.5" stroke-width="3.75"/>
<rect x="1228.4" y="649.8" width="15" height="15" fill="#0000ff" stroke="#0000ff" stroke-width="2.5" opacity="0.5"/>
<text x="1302.4" y="670.8" font-size="37" text-anchor="start">CL</text>
<line x1="1235.9" y1="692.95" x2="1235.9" y2="730.45" stroke="#ff0000" stroke-opacity="0.5" stroke-width="3.75"/>
<polygon points="1235.9,704.2 1228.4,719.2 1243.4,719.2" fill="#ff0000" stroke="#ff0000" stroke-width="2.5" opacity="0.5" stroke-linejoin="miter"/>
<text x="1302.4" y="725.2" font-size="37" text-anchor="start">BL</text>
<line x1="1235.9" y1="747.35" x2="1235.9" y2="784.85" stroke="#008000" stroke-opacity="0.5" stroke-width="3.75"/>
<polygon points="1235.9,758.6 1243.03,763.78 1240.31,772.17 1231.49,772.17 1228.77,763.78" fill="#008000" stroke="#008000" stroke-width="2.5" opacity="0.5" stroke-linejoin="miter"/>
<text x="1302.4" y="779.6" font-size="37" text-anchor="start">SS</text>
<text x="1225.9" y="173.8" font-size="32" text-anchor="start">1990N</text>
<text x="1346.2" y="199.1" font-size="32" text-anchor="start">1999ee</text>
<text x="1841.2" y="719.4" font-size="32" text-anchor="start">1991bg</text>
<rect x="1165.6" y="0.4" width="824.4" height="819.1" fill="none" stroke="#000" stroke-width="2" stroke-linejoin="miter"/>
<line x1="1165.6" y1="819.5" x2="1165.6" y2="828.25" stroke="#000" stroke-width="2"/>
<text x="1165.6" y="865.3" font-size="37.2" text-anchor="middle">−20</text>
<line x1="1315.49" y1="819.5" x2="1315.49" y2="828.25" stroke="#000" stroke-width="2"/>
<text x="1315.49" y="865.3" font-size="37.2" text-anchor="middle">−10</text>
<line x1="1465.38" y1="819.5" x2="1465.38" y2="828.25" stroke="#000" stroke-width="2"/>
<text x="1465.38" y="865.3" font-size="37.2" text-anchor="middle">0</text>
<line x1="1615.27" y1="819.5" x2="1615.27" y2="828.25" stroke="#000" stroke-width="2"/>
<text x="1615.27" y="865.3" font-size="37.2" text-anchor="middle">10</text>
<line x1="1765.16" y1="819.5" x2="1765.16" y2="828.25" stroke="#000" stroke-width="2"/>
<text x="1765.16" y="865.3" font-size="37.2" text-anchor="middle">20</text>
<line x1="1915.05" y1="819.5" x2="1915.05" y2="828.25" stroke="#000" stroke-width="2"/>
<text x="1915.05" y="865.3" font-size="37.2" text-anchor="middle">30</text>
<line x1="1156.85" y1="745.04" x2="1165.6" y2="745.04" stroke="#000" stroke-width="2"/>
<text x="1149" y="758.64" font-size="37.2" text-anchor="end">6</text>
<line x1="1156.85" y1="645.75" x2="1165.6" y2="645.75" stroke="#000" stroke-width="2"/>
<text x="1149" y="659.35" font-size="37.2" text-anchor="end">8</text>
<line x1="1156.85" y1="546.47" x2="1165.6" y2="546.47" stroke="#000" stroke-width="2"/>
<text x="1149" y="560.07" font-size="37.2" text-anchor="end">10</text>
<line x1="1156.85" y1="447.18" x2="1165.6" y2="447.18" stroke="#000" stroke-width="2"/>
<text x="1149" y="460.78" font-size="37.2" text-anchor="end">12</text>
<line x1="1156.85" y1="347.9" x2="1165.6" y2="347.9" stroke="#000" stroke-width="2"/>
<text x="1149" y="361.5" font-size="37.2" text-anchor="end">14</text>
<line x1="1156.85" y1="248.61" x2="1165.6" y2="248.61" stroke="#000" stroke-width="2"/>
<text x="1149" y="262.21" font-size="37.2" text-anchor="end">16</text>
<line x1="1156.85" y1="149.33" x2="1165.6" y2="149.33" stroke="#000" stroke-width="2"/>
<text x="1149" y="162.93" font-size="37.2" text-anchor="end">18</text>
<line x1="1156.85" y1="50.04" x2="1165.6" y2="50.04" stroke="#000" stroke-width="2"/>
<text x="1149" y="63.64" font-size="37.2" text-anchor="end">20</text>
<text transform="translate(1578.1,914.3) scale(1.03,1)" font-size="40.63" text-anchor="middle">Restframe days since B maximum</text>
<text transform="translate(1082,677.6) rotate(-90)" font-size="41.85"><tspan x="0" y="0" font-size="41.85">v(Si II 6355) [10</tspan><tspan x="337.5" y="-16.2" font-size="29.3">3</tspan><tspan x="370.5" y="0" font-size="41.85" font-style="italic">km</tspan><tspan x="449" y="0" font-size="41.85" font-style="italic">s</tspan><tspan x="472.5" y="-16.2" font-size="29.3">−1</tspan><tspan x="516.5" y="0" font-size="41.85">]</tspan></text>
</g>
</svg>
</body></html>
